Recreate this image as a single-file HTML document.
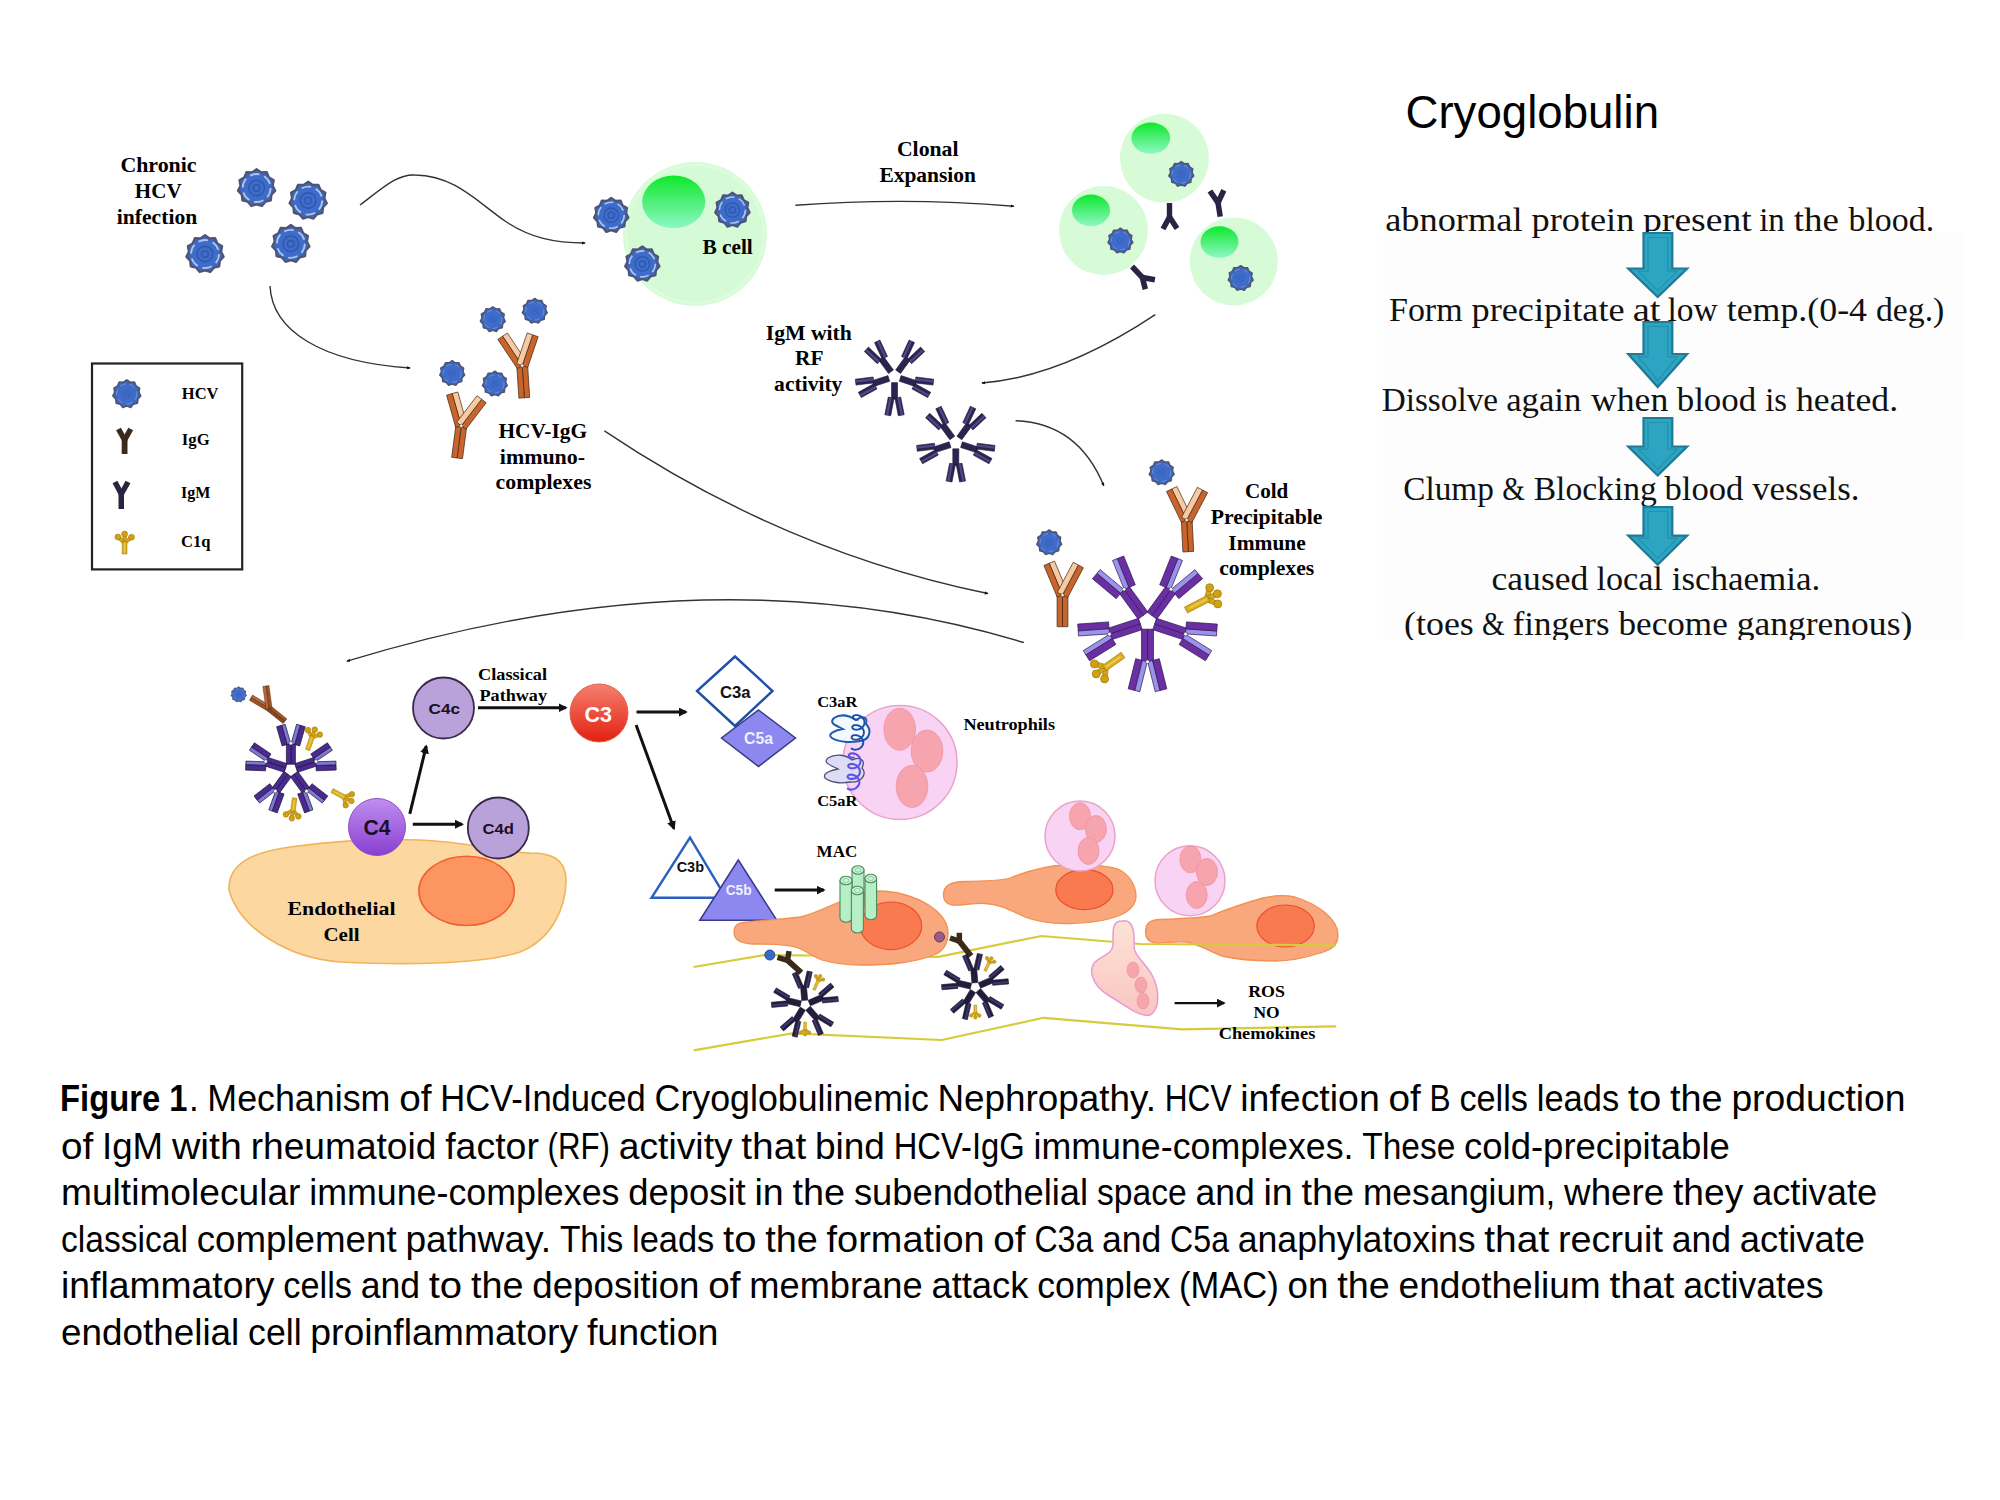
<!DOCTYPE html>
<html><head><meta charset="utf-8"><title>Cryoglobulin</title>
<style>html,body{margin:0;padding:0;background:#fff;}svg{display:block;}</style>
</head><body>
<svg width="2000" height="1500" viewBox="0 0 2000 1500">
<defs>
<marker id="ah" viewBox="0 0 10 10" refX="8" refY="5" markerWidth="4" markerHeight="4" orient="auto-start-reverse" markerUnits="userSpaceOnUse"><path d="M0,1 L10,5 L0,9 z" fill="#111"/></marker>
<marker id="ahb" viewBox="0 0 10 10" refX="8" refY="5" markerWidth="9" markerHeight="9" orient="auto" markerUnits="userSpaceOnUse"><path d="M0,0 L10,5 L0,10 z" fill="#111"/></marker>
<linearGradient id="nuc" x1="0" y1="0" x2="0" y2="1"><stop offset="0" stop-color="#0ee82a"/><stop offset="1" stop-color="#8ef7c6"/></linearGradient>
<linearGradient id="c4g" x1="0" y1="0" x2="0" y2="1"><stop offset="0" stop-color="#c08ef0"/><stop offset="1" stop-color="#8a3fd0"/></linearGradient>
<linearGradient id="c3g" x1="0" y1="0" x2="0" y2="1"><stop offset="0" stop-color="#f58070"/><stop offset="1" stop-color="#e42010"/></linearGradient>
<linearGradient id="nucO" x1="0" y1="0" x2="0" y2="1"><stop offset="0" stop-color="#fd8a5a"/><stop offset="1" stop-color="#fb9868"/></linearGradient>
<linearGradient id="diap" x1="0" y1="0" x2="0" y2="1"><stop offset="0" stop-color="#fde2d6"/><stop offset="1" stop-color="#f9c6c2"/></linearGradient>
</defs>
<rect width="2000" height="1500" fill="#fff"/>

<rect x="1383" y="233" width="579" height="407" fill="#fdfdfe"/>
<text x="1405.5" y="128" font-family='"Liberation Sans", sans-serif' font-size="47" font-weight="normal" fill="#000" textLength="253.5" lengthAdjust="spacingAndGlyphs">Cryoglobulin</text>
<clipPath id="pclip"><rect x="1300" y="150" width="700" height="490"/></clipPath>
<g clip-path="url(#pclip)">
<text x="1385.2" y="231" font-family='"Liberation Serif", serif' font-size="34" font-weight="normal" fill="#111" textLength="137.3" lengthAdjust="spacingAndGlyphs">abnormal</text>
<text x="1531.5" y="231" font-family='"Liberation Serif", serif' font-size="34" font-weight="normal" fill="#111" textLength="102.8" lengthAdjust="spacingAndGlyphs">protein</text>
<text x="1643" y="231" font-family='"Liberation Serif", serif' font-size="34" font-weight="normal" fill="#111" textLength="108.8" lengthAdjust="spacingAndGlyphs">present</text>
<text x="1759.2" y="231" font-family='"Liberation Serif", serif' font-size="34" font-weight="normal" fill="#111" textLength="25.6" lengthAdjust="spacingAndGlyphs">in</text>
<text x="1793.7" y="231" font-family='"Liberation Serif", serif' font-size="34" font-weight="normal" fill="#111" textLength="45.1" lengthAdjust="spacingAndGlyphs">the</text>
<text x="1848.5" y="231" font-family='"Liberation Serif", serif' font-size="34" font-weight="normal" fill="#111" textLength="85.6" lengthAdjust="spacingAndGlyphs">blood.</text>
<text x="1389" y="321" font-family='"Liberation Serif", serif' font-size="34" font-weight="normal" fill="#111" textLength="73.6" lengthAdjust="spacingAndGlyphs">Form</text>
<text x="1471.5" y="321" font-family='"Liberation Serif", serif' font-size="34" font-weight="normal" fill="#111" textLength="153.1" lengthAdjust="spacingAndGlyphs">precipitate</text>
<text x="1632.7" y="321" font-family='"Liberation Serif", serif' font-size="34" font-weight="normal" fill="#111" textLength="27.8" lengthAdjust="spacingAndGlyphs">at</text>
<text x="1667.5" y="321" font-family='"Liberation Serif", serif' font-size="34" font-weight="normal" fill="#111" textLength="50.3" lengthAdjust="spacingAndGlyphs">low</text>
<text x="1726.7" y="321" font-family='"Liberation Serif", serif' font-size="34" font-weight="normal" fill="#111" textLength="140.3" lengthAdjust="spacingAndGlyphs">temp.(0-4</text>
<text x="1876" y="321" font-family='"Liberation Serif", serif' font-size="34" font-weight="normal" fill="#111" textLength="68.3" lengthAdjust="spacingAndGlyphs">deg.)</text>
<text x="1381.7" y="410.5" font-family='"Liberation Serif", serif' font-size="34" font-weight="normal" fill="#111" textLength="116.3" lengthAdjust="spacingAndGlyphs">Dissolve</text>
<text x="1506.2" y="410.5" font-family='"Liberation Serif", serif' font-size="34" font-weight="normal" fill="#111" textLength="75.1" lengthAdjust="spacingAndGlyphs">again</text>
<text x="1591" y="410.5" font-family='"Liberation Serif", serif' font-size="34" font-weight="normal" fill="#111" textLength="77.3" lengthAdjust="spacingAndGlyphs">when</text>
<text x="1676.7" y="410.5" font-family='"Liberation Serif", serif' font-size="34" font-weight="normal" fill="#111" textLength="79.6" lengthAdjust="spacingAndGlyphs">blood</text>
<text x="1765.2" y="410.5" font-family='"Liberation Serif", serif' font-size="34" font-weight="normal" fill="#111" textLength="21.8" lengthAdjust="spacingAndGlyphs">is</text>
<text x="1796" y="410.5" font-family='"Liberation Serif", serif' font-size="34" font-weight="normal" fill="#111" textLength="102.1" lengthAdjust="spacingAndGlyphs">heated.</text>
<text x="1403.2" y="499.8" font-family='"Liberation Serif", serif' font-size="34" font-weight="normal" fill="#111" textLength="90.8" lengthAdjust="spacingAndGlyphs">Clump</text>
<text x="1502.2" y="499.8" font-family='"Liberation Serif", serif' font-size="34" font-weight="normal" fill="#111" textLength="22.6" lengthAdjust="spacingAndGlyphs">&amp;</text>
<text x="1533.7" y="499.8" font-family='"Liberation Serif", serif' font-size="34" font-weight="normal" fill="#111" textLength="123.1" lengthAdjust="spacingAndGlyphs">Blocking</text>
<text x="1664.5" y="499.8" font-family='"Liberation Serif", serif' font-size="34" font-weight="normal" fill="#111" textLength="78.8" lengthAdjust="spacingAndGlyphs">blood</text>
<text x="1752.2" y="499.8" font-family='"Liberation Serif", serif' font-size="34" font-weight="normal" fill="#111" textLength="107.3" lengthAdjust="spacingAndGlyphs">vessels.</text>
<text x="1491.5" y="590.2" font-family='"Liberation Serif", serif' font-size="34" font-weight="normal" fill="#111" textLength="96.9" lengthAdjust="spacingAndGlyphs">caused</text>
<text x="1596.5" y="590.2" font-family='"Liberation Serif", serif' font-size="34" font-weight="normal" fill="#111" textLength="66.3" lengthAdjust="spacingAndGlyphs">local</text>
<text x="1671.7" y="590.2" font-family='"Liberation Serif", serif' font-size="34" font-weight="normal" fill="#111" textLength="148.6" lengthAdjust="spacingAndGlyphs">ischaemia.</text>
<text x="1404" y="634.5" font-family='"Liberation Serif", serif' font-size="34" font-weight="normal" fill="#111" textLength="69.8" lengthAdjust="spacingAndGlyphs">(toes</text>
<text x="1482" y="634.5" font-family='"Liberation Serif", serif' font-size="34" font-weight="normal" fill="#111" textLength="22.6" lengthAdjust="spacingAndGlyphs">&amp;</text>
<text x="1512.7" y="634.5" font-family='"Liberation Serif", serif' font-size="34" font-weight="normal" fill="#111" textLength="96.8" lengthAdjust="spacingAndGlyphs">fingers</text>
<text x="1618.5" y="634.5" font-family='"Liberation Serif", serif' font-size="34" font-weight="normal" fill="#111" textLength="109.3" lengthAdjust="spacingAndGlyphs">become</text>
<text x="1736.7" y="634.5" font-family='"Liberation Serif", serif' font-size="34" font-weight="normal" fill="#111" textLength="175.6" lengthAdjust="spacingAndGlyphs">gangrenous)</text>
</g>
<path d="M1643.5,233 L1672.3,233 L1672.3,268.5 L1687.2,268.5 L1657.7,297 L1628.2,268.5 L1643.5,268.5 Z" fill="#2ca4c2" stroke="#1f7b95" stroke-width="2.2" stroke-linejoin="miter"/>
<path d="M1648,237.5 L1667.8,237.5 L1667.8,271.2 L1677.3,271.2 L1657.7,290.7 L1638.1,271.2 L1648,271.2 Z" fill="none" stroke="#2590ad" stroke-width="1.2"/>
<path d="M1643.5,322 L1672.3,322 L1672.3,354 L1687.2,354 L1657.7,387 L1628.2,354 L1643.5,354 Z" fill="#2ca4c2" stroke="#1f7b95" stroke-width="2.2" stroke-linejoin="miter"/>
<path d="M1648,326.5 L1667.8,326.5 L1667.8,356.7 L1677.3,356.7 L1657.7,380.7 L1638.1,356.7 L1648,356.7 Z" fill="none" stroke="#2590ad" stroke-width="1.2"/>
<path d="M1643.5,418 L1672.3,418 L1672.3,446.5 L1687.2,446.5 L1657.7,475.5 L1628.2,446.5 L1643.5,446.5 Z" fill="#2ca4c2" stroke="#1f7b95" stroke-width="2.2" stroke-linejoin="miter"/>
<path d="M1648,422.5 L1667.8,422.5 L1667.8,449.2 L1677.3,449.2 L1657.7,469.2 L1638.1,449.2 L1648,449.2 Z" fill="none" stroke="#2590ad" stroke-width="1.2"/>
<path d="M1643.5,507 L1672.3,507 L1672.3,535.6 L1687.2,535.6 L1657.7,564.7 L1628.2,535.6 L1643.5,535.6 Z" fill="#2ca4c2" stroke="#1f7b95" stroke-width="2.2" stroke-linejoin="miter"/>
<path d="M1648,511.5 L1667.8,511.5 L1667.8,538.3 L1677.3,538.3 L1657.7,558.4 L1638.1,538.3 L1648,538.3 Z" fill="none" stroke="#2590ad" stroke-width="1.2"/>
<text x="60" y="1111" font-family='"Liberation Sans", sans-serif' font-size="37" font-weight="bold" fill="#000" textLength="127.5" lengthAdjust="spacingAndGlyphs">Figure 1</text>
<text x="188.9" y="1111" font-family='"Liberation Sans", sans-serif' font-size="37" font-weight="normal" fill="#000" textLength="9.7" lengthAdjust="spacingAndGlyphs">.</text>
<text x="207.3" y="1111" font-family='"Liberation Sans", sans-serif' font-size="37" font-weight="normal" fill="#000" textLength="183.1" lengthAdjust="spacingAndGlyphs">Mechanism</text>
<text x="399.2" y="1111" font-family='"Liberation Sans", sans-serif' font-size="37" font-weight="normal" fill="#000" textLength="32.3" lengthAdjust="spacingAndGlyphs">of</text>
<text x="440.2" y="1111" font-family='"Liberation Sans", sans-serif' font-size="37" font-weight="normal" fill="#000" textLength="205.6" lengthAdjust="spacingAndGlyphs">HCV-Induced</text>
<text x="654.6" y="1111" font-family='"Liberation Sans", sans-serif' font-size="37" font-weight="normal" fill="#000" textLength="274.2" lengthAdjust="spacingAndGlyphs">Cryoglobulinemic</text>
<text x="937.5" y="1111" font-family='"Liberation Sans", sans-serif' font-size="37" font-weight="normal" fill="#000" textLength="218.5" lengthAdjust="spacingAndGlyphs">Nephropathy.</text>
<text x="1164.7" y="1111" font-family='"Liberation Sans", sans-serif' font-size="37" font-weight="normal" fill="#000" textLength="66.8" lengthAdjust="spacingAndGlyphs">HCV</text>
<text x="1240.3" y="1111" font-family='"Liberation Sans", sans-serif' font-size="37" font-weight="normal" fill="#000" textLength="139.4" lengthAdjust="spacingAndGlyphs">infection</text>
<text x="1388.5" y="1111" font-family='"Liberation Sans", sans-serif' font-size="37" font-weight="normal" fill="#000" textLength="32.3" lengthAdjust="spacingAndGlyphs">of</text>
<text x="1429.5" y="1111" font-family='"Liberation Sans", sans-serif' font-size="37" font-weight="normal" fill="#000" textLength="21.1" lengthAdjust="spacingAndGlyphs">B</text>
<text x="1459.4" y="1111" font-family='"Liberation Sans", sans-serif' font-size="37" font-weight="normal" fill="#000" textLength="68.6" lengthAdjust="spacingAndGlyphs">cells</text>
<text x="1536.8" y="1111" font-family='"Liberation Sans", sans-serif' font-size="37" font-weight="normal" fill="#000" textLength="82.3" lengthAdjust="spacingAndGlyphs">leads</text>
<text x="1627.8" y="1111" font-family='"Liberation Sans", sans-serif' font-size="37" font-weight="normal" fill="#000" textLength="33.4" lengthAdjust="spacingAndGlyphs">to</text>
<text x="1670" y="1111" font-family='"Liberation Sans", sans-serif' font-size="37" font-weight="normal" fill="#000" textLength="52.6" lengthAdjust="spacingAndGlyphs">the</text>
<text x="1731.4" y="1111" font-family='"Liberation Sans", sans-serif' font-size="37" font-weight="normal" fill="#000" textLength="174.1" lengthAdjust="spacingAndGlyphs">production</text>
<text x="61" y="1158.5" font-family='"Liberation Sans", sans-serif' font-size="37" font-weight="normal" fill="#000" textLength="32.3" lengthAdjust="spacingAndGlyphs">of</text>
<text x="102" y="1158.5" font-family='"Liberation Sans", sans-serif' font-size="37" font-weight="normal" fill="#000" textLength="61.1" lengthAdjust="spacingAndGlyphs">IgM</text>
<text x="171.9" y="1158.5" font-family='"Liberation Sans", sans-serif' font-size="37" font-weight="normal" fill="#000" textLength="69.9" lengthAdjust="spacingAndGlyphs">with</text>
<text x="250.7" y="1158.5" font-family='"Liberation Sans", sans-serif' font-size="37" font-weight="normal" fill="#000" textLength="185.7" lengthAdjust="spacingAndGlyphs">rheumatoid</text>
<text x="445.2" y="1158.5" font-family='"Liberation Sans", sans-serif' font-size="37" font-weight="normal" fill="#000" textLength="93.7" lengthAdjust="spacingAndGlyphs">factor</text>
<text x="547.6" y="1158.5" font-family='"Liberation Sans", sans-serif' font-size="37" font-weight="normal" fill="#000" textLength="62.4" lengthAdjust="spacingAndGlyphs">(RF)</text>
<text x="618.8" y="1158.5" font-family='"Liberation Sans", sans-serif' font-size="37" font-weight="normal" fill="#000" textLength="113.8" lengthAdjust="spacingAndGlyphs">activity</text>
<text x="741.3" y="1158.5" font-family='"Liberation Sans", sans-serif' font-size="37" font-weight="normal" fill="#000" textLength="64.9" lengthAdjust="spacingAndGlyphs">that</text>
<text x="814.9" y="1158.5" font-family='"Liberation Sans", sans-serif' font-size="37" font-weight="normal" fill="#000" textLength="70" lengthAdjust="spacingAndGlyphs">bind</text>
<text x="893.7" y="1158.5" font-family='"Liberation Sans", sans-serif' font-size="37" font-weight="normal" fill="#000" textLength="131.1" lengthAdjust="spacingAndGlyphs">HCV-IgG</text>
<text x="1033.6" y="1158.5" font-family='"Liberation Sans", sans-serif' font-size="37" font-weight="normal" fill="#000" textLength="319.9" lengthAdjust="spacingAndGlyphs">immune-complexes.</text>
<text x="1362.3" y="1158.5" font-family='"Liberation Sans", sans-serif' font-size="37" font-weight="normal" fill="#000" textLength="93" lengthAdjust="spacingAndGlyphs">These</text>
<text x="1464" y="1158.5" font-family='"Liberation Sans", sans-serif' font-size="37" font-weight="normal" fill="#000" textLength="265.8" lengthAdjust="spacingAndGlyphs">cold-precipitable</text>
<text x="61" y="1204.5" font-family='"Liberation Sans", sans-serif' font-size="37" font-weight="normal" fill="#000" textLength="239.4" lengthAdjust="spacingAndGlyphs">multimolecular</text>
<text x="309.2" y="1204.5" font-family='"Liberation Sans", sans-serif' font-size="37" font-weight="normal" fill="#000" textLength="310.3" lengthAdjust="spacingAndGlyphs">immune-complexes</text>
<text x="628.2" y="1204.5" font-family='"Liberation Sans", sans-serif' font-size="37" font-weight="normal" fill="#000" textLength="117.5" lengthAdjust="spacingAndGlyphs">deposit</text>
<text x="754.5" y="1204.5" font-family='"Liberation Sans", sans-serif' font-size="37" font-weight="normal" fill="#000" textLength="29.3" lengthAdjust="spacingAndGlyphs">in</text>
<text x="792.5" y="1204.5" font-family='"Liberation Sans", sans-serif' font-size="37" font-weight="normal" fill="#000" textLength="52.6" lengthAdjust="spacingAndGlyphs">the</text>
<text x="853.9" y="1204.5" font-family='"Liberation Sans", sans-serif' font-size="37" font-weight="normal" fill="#000" textLength="234.2" lengthAdjust="spacingAndGlyphs">subendothelial</text>
<text x="1096.9" y="1204.5" font-family='"Liberation Sans", sans-serif' font-size="37" font-weight="normal" fill="#000" textLength="89.8" lengthAdjust="spacingAndGlyphs">space</text>
<text x="1195.4" y="1204.5" font-family='"Liberation Sans", sans-serif' font-size="37" font-weight="normal" fill="#000" textLength="59.3" lengthAdjust="spacingAndGlyphs">and</text>
<text x="1263.4" y="1204.5" font-family='"Liberation Sans", sans-serif' font-size="37" font-weight="normal" fill="#000" textLength="29.3" lengthAdjust="spacingAndGlyphs">in</text>
<text x="1301.5" y="1204.5" font-family='"Liberation Sans", sans-serif' font-size="37" font-weight="normal" fill="#000" textLength="52.6" lengthAdjust="spacingAndGlyphs">the</text>
<text x="1362.9" y="1204.5" font-family='"Liberation Sans", sans-serif' font-size="37" font-weight="normal" fill="#000" textLength="192.5" lengthAdjust="spacingAndGlyphs">mesangium,</text>
<text x="1564.1" y="1204.5" font-family='"Liberation Sans", sans-serif' font-size="37" font-weight="normal" fill="#000" textLength="100.2" lengthAdjust="spacingAndGlyphs">where</text>
<text x="1673" y="1204.5" font-family='"Liberation Sans", sans-serif' font-size="37" font-weight="normal" fill="#000" textLength="70.2" lengthAdjust="spacingAndGlyphs">they</text>
<text x="1752" y="1204.5" font-family='"Liberation Sans", sans-serif' font-size="37" font-weight="normal" fill="#000" textLength="125.2" lengthAdjust="spacingAndGlyphs">activate</text>
<text x="61" y="1252" font-family='"Liberation Sans", sans-serif' font-size="37" font-weight="normal" fill="#000" textLength="126.9" lengthAdjust="spacingAndGlyphs">classical</text>
<text x="196.7" y="1252" font-family='"Liberation Sans", sans-serif' font-size="37" font-weight="normal" fill="#000" textLength="199.9" lengthAdjust="spacingAndGlyphs">complement</text>
<text x="405.4" y="1252" font-family='"Liberation Sans", sans-serif' font-size="37" font-weight="normal" fill="#000" textLength="145.8" lengthAdjust="spacingAndGlyphs">pathway.</text>
<text x="559.9" y="1252" font-family='"Liberation Sans", sans-serif' font-size="37" font-weight="normal" fill="#000" textLength="63.3" lengthAdjust="spacingAndGlyphs">This</text>
<text x="632" y="1252" font-family='"Liberation Sans", sans-serif' font-size="37" font-weight="normal" fill="#000" textLength="82.3" lengthAdjust="spacingAndGlyphs">leads</text>
<text x="723" y="1252" font-family='"Liberation Sans", sans-serif' font-size="37" font-weight="normal" fill="#000" textLength="33.4" lengthAdjust="spacingAndGlyphs">to</text>
<text x="765.2" y="1252" font-family='"Liberation Sans", sans-serif' font-size="37" font-weight="normal" fill="#000" textLength="52.6" lengthAdjust="spacingAndGlyphs">the</text>
<text x="826.6" y="1252" font-family='"Liberation Sans", sans-serif' font-size="37" font-weight="normal" fill="#000" textLength="158" lengthAdjust="spacingAndGlyphs">formation</text>
<text x="993.3" y="1252" font-family='"Liberation Sans", sans-serif' font-size="37" font-weight="normal" fill="#000" textLength="32.3" lengthAdjust="spacingAndGlyphs">of</text>
<text x="1034.4" y="1252" font-family='"Liberation Sans", sans-serif' font-size="37" font-weight="normal" fill="#000" textLength="58.9" lengthAdjust="spacingAndGlyphs">C3a</text>
<text x="1102" y="1252" font-family='"Liberation Sans", sans-serif' font-size="37" font-weight="normal" fill="#000" textLength="59.3" lengthAdjust="spacingAndGlyphs">and</text>
<text x="1170.1" y="1252" font-family='"Liberation Sans", sans-serif' font-size="37" font-weight="normal" fill="#000" textLength="58.9" lengthAdjust="spacingAndGlyphs">C5a</text>
<text x="1237.7" y="1252" font-family='"Liberation Sans", sans-serif' font-size="37" font-weight="normal" fill="#000" textLength="237.9" lengthAdjust="spacingAndGlyphs">anaphylatoxins</text>
<text x="1484.3" y="1252" font-family='"Liberation Sans", sans-serif' font-size="37" font-weight="normal" fill="#000" textLength="64.9" lengthAdjust="spacingAndGlyphs">that</text>
<text x="1558" y="1252" font-family='"Liberation Sans", sans-serif' font-size="37" font-weight="normal" fill="#000" textLength="104.9" lengthAdjust="spacingAndGlyphs">recruit</text>
<text x="1671.7" y="1252" font-family='"Liberation Sans", sans-serif' font-size="37" font-weight="normal" fill="#000" textLength="59.3" lengthAdjust="spacingAndGlyphs">and</text>
<text x="1739.8" y="1252" font-family='"Liberation Sans", sans-serif' font-size="37" font-weight="normal" fill="#000" textLength="125.2" lengthAdjust="spacingAndGlyphs">activate</text>
<text x="61" y="1298" font-family='"Liberation Sans", sans-serif' font-size="37" font-weight="normal" fill="#000" textLength="213.5" lengthAdjust="spacingAndGlyphs">inflammatory</text>
<text x="283.3" y="1298" font-family='"Liberation Sans", sans-serif' font-size="37" font-weight="normal" fill="#000" textLength="68.6" lengthAdjust="spacingAndGlyphs">cells</text>
<text x="360.7" y="1298" font-family='"Liberation Sans", sans-serif' font-size="37" font-weight="normal" fill="#000" textLength="59.3" lengthAdjust="spacingAndGlyphs">and</text>
<text x="428.7" y="1298" font-family='"Liberation Sans", sans-serif' font-size="37" font-weight="normal" fill="#000" textLength="33.4" lengthAdjust="spacingAndGlyphs">to</text>
<text x="470.9" y="1298" font-family='"Liberation Sans", sans-serif' font-size="37" font-weight="normal" fill="#000" textLength="52.6" lengthAdjust="spacingAndGlyphs">the</text>
<text x="532.3" y="1298" font-family='"Liberation Sans", sans-serif' font-size="37" font-weight="normal" fill="#000" textLength="167.2" lengthAdjust="spacingAndGlyphs">deposition</text>
<text x="708.3" y="1298" font-family='"Liberation Sans", sans-serif' font-size="37" font-weight="normal" fill="#000" textLength="32.3" lengthAdjust="spacingAndGlyphs">of</text>
<text x="749.3" y="1298" font-family='"Liberation Sans", sans-serif' font-size="37" font-weight="normal" fill="#000" textLength="173.3" lengthAdjust="spacingAndGlyphs">membrane</text>
<text x="931.4" y="1298" font-family='"Liberation Sans", sans-serif' font-size="37" font-weight="normal" fill="#000" textLength="97.1" lengthAdjust="spacingAndGlyphs">attack</text>
<text x="1037.2" y="1298" font-family='"Liberation Sans", sans-serif' font-size="37" font-weight="normal" fill="#000" textLength="133.1" lengthAdjust="spacingAndGlyphs">complex</text>
<text x="1179.1" y="1298" font-family='"Liberation Sans", sans-serif' font-size="37" font-weight="normal" fill="#000" textLength="99.7" lengthAdjust="spacingAndGlyphs">(MAC)</text>
<text x="1287.6" y="1298" font-family='"Liberation Sans", sans-serif' font-size="37" font-weight="normal" fill="#000" textLength="40.8" lengthAdjust="spacingAndGlyphs">on</text>
<text x="1337.2" y="1298" font-family='"Liberation Sans", sans-serif' font-size="37" font-weight="normal" fill="#000" textLength="52.6" lengthAdjust="spacingAndGlyphs">the</text>
<text x="1398.6" y="1298" font-family='"Liberation Sans", sans-serif' font-size="37" font-weight="normal" fill="#000" textLength="202.2" lengthAdjust="spacingAndGlyphs">endothelium</text>
<text x="1609.5" y="1298" font-family='"Liberation Sans", sans-serif' font-size="37" font-weight="normal" fill="#000" textLength="64.9" lengthAdjust="spacingAndGlyphs">that</text>
<text x="1683.2" y="1298" font-family='"Liberation Sans", sans-serif' font-size="37" font-weight="normal" fill="#000" textLength="140.3" lengthAdjust="spacingAndGlyphs">activates</text>
<text x="61" y="1345" font-family='"Liberation Sans", sans-serif' font-size="37" font-weight="normal" fill="#000" textLength="178.3" lengthAdjust="spacingAndGlyphs">endothelial</text>
<text x="248.1" y="1345" font-family='"Liberation Sans", sans-serif' font-size="37" font-weight="normal" fill="#000" textLength="53.5" lengthAdjust="spacingAndGlyphs">cell</text>
<text x="310.3" y="1345" font-family='"Liberation Sans", sans-serif' font-size="37" font-weight="normal" fill="#000" textLength="267.8" lengthAdjust="spacingAndGlyphs">proinflammatory</text>
<text x="586.9" y="1345" font-family='"Liberation Sans", sans-serif' font-size="37" font-weight="normal" fill="#000" textLength="131.6" lengthAdjust="spacingAndGlyphs">function</text>
<text x="120.4" y="171.8" font-family='"Liberation Serif", serif' font-size="21" font-weight="bold" fill="#000" textLength="76.2" lengthAdjust="spacingAndGlyphs">Chronic</text>
<text x="134.8" y="197.6" font-family='"Liberation Serif", serif' font-size="21" font-weight="bold" fill="#000" textLength="46.8" lengthAdjust="spacingAndGlyphs">HCV</text>
<text x="116.8" y="224" font-family='"Liberation Serif", serif' font-size="21" font-weight="bold" fill="#000" textLength="80.4" lengthAdjust="spacingAndGlyphs">infection</text>
<g>
<polygon points="256.6,169.1 261.2,172.3 266.8,172.1 269,177.3 273.8,180.1 272.8,185.7 275.3,190.7 271.5,194.8 270.9,200.4 265.5,201.8 261.9,206.1 256.6,204.4 251.3,206.1 247.7,201.8 242.3,200.4 241.7,194.8 237.9,190.7 240.4,185.7 239.4,180.1 244.2,177.3 246.4,172.1 252,172.3" fill="#3f66b8" stroke="#4f5472" stroke-width="2.1" stroke-linejoin="round"/>
<circle cx="256.6" cy="188" r="14.4" fill="#3e6cc8"/>
<circle cx="256.6" cy="188" r="14" fill="none" stroke="#a9c6f0" stroke-width="1.8" stroke-dasharray="9.8 4.9"/>
<circle cx="256.6" cy="188" r="7.8" fill="none" stroke="#2d58ae" stroke-width="1.4"/>
<circle cx="256.6" cy="188" r="3.3" fill="none" stroke="#2d58ae" stroke-width="1.4"/>
</g>
<g>
<polygon points="308.2,181.7 312.8,184.9 318.4,184.7 320.6,189.9 325.4,192.7 324.4,198.3 326.9,203.3 323.1,207.4 322.5,213 317.1,214.4 313.5,218.7 308.2,217 302.9,218.7 299.3,214.4 293.9,213 293.3,207.4 289.5,203.3 292,198.3 291,192.7 295.8,189.9 298,184.7 303.6,184.9" fill="#3f66b8" stroke="#4f5472" stroke-width="2.1" stroke-linejoin="round"/>
<circle cx="308.2" cy="200.6" r="14.4" fill="#3e6cc8"/>
<circle cx="308.2" cy="200.6" r="14" fill="none" stroke="#a9c6f0" stroke-width="1.8" stroke-dasharray="9.8 4.9"/>
<circle cx="308.2" cy="200.6" r="7.8" fill="none" stroke="#2d58ae" stroke-width="1.4"/>
<circle cx="308.2" cy="200.6" r="3.3" fill="none" stroke="#2d58ae" stroke-width="1.4"/>
</g>
<g>
<polygon points="205,235.1 209.6,238.3 215.2,238.1 217.4,243.3 222.2,246.1 221.2,251.7 223.7,256.7 219.9,260.8 219.3,266.4 213.9,267.8 210.3,272.1 205,270.4 199.7,272.1 196.1,267.8 190.7,266.4 190.1,260.8 186.3,256.7 188.8,251.7 187.8,246.1 192.6,243.3 194.8,238.1 200.4,238.3" fill="#3f66b8" stroke="#4f5472" stroke-width="2.1" stroke-linejoin="round"/>
<circle cx="205" cy="254" r="14.4" fill="#3e6cc8"/>
<circle cx="205" cy="254" r="14" fill="none" stroke="#a9c6f0" stroke-width="1.8" stroke-dasharray="9.8 4.9"/>
<circle cx="205" cy="254" r="7.8" fill="none" stroke="#2d58ae" stroke-width="1.4"/>
<circle cx="205" cy="254" r="3.3" fill="none" stroke="#2d58ae" stroke-width="1.4"/>
</g>
<g>
<polygon points="290.8,224.9 295.4,228.1 301,227.9 303.2,233.1 308,235.9 307,241.5 309.5,246.5 305.7,250.6 305.1,256.2 299.7,257.6 296.1,261.9 290.8,260.2 285.5,261.9 281.9,257.6 276.5,256.2 275.9,250.6 272.1,246.5 274.6,241.5 273.6,235.9 278.4,233.1 280.6,227.9 286.2,228.1" fill="#3f66b8" stroke="#4f5472" stroke-width="2.1" stroke-linejoin="round"/>
<circle cx="290.8" cy="243.8" r="14.4" fill="#3e6cc8"/>
<circle cx="290.8" cy="243.8" r="14" fill="none" stroke="#a9c6f0" stroke-width="1.8" stroke-dasharray="9.8 4.9"/>
<circle cx="290.8" cy="243.8" r="7.8" fill="none" stroke="#2d58ae" stroke-width="1.4"/>
<circle cx="290.8" cy="243.8" r="3.3" fill="none" stroke="#2d58ae" stroke-width="1.4"/>
</g>
<path d="M360,205 C385,186 398,174 415,175 C455,176 475,200 505,221 C530,238 555,243 585,243" fill="none" stroke="#333" stroke-width="1.4" marker-end="url(#ah)"/>
<path d="M270,286 C272,330 320,362 410,368" fill="none" stroke="#333" stroke-width="1.4" marker-end="url(#ah)"/>
<circle cx="695" cy="234" r="72" fill="#d5fbd6"/>
<circle cx="695" cy="234" r="69" fill="none" stroke="#dcfddc" stroke-width="3"/>
<ellipse cx="673.7" cy="201.9" rx="31.5" ry="26.4" fill="url(#nuc)"/>
<g>
<polygon points="611.2,197.7 615.5,200.7 620.6,200.5 622.6,205.3 627.1,207.9 626.2,213 628.5,217.7 625,221.5 624.4,226.6 619.4,227.9 616.1,232 611.2,230.3 606.3,232 603,227.9 598,226.6 597.4,221.5 593.9,217.7 596.2,213 595.3,207.9 599.8,205.3 601.8,200.5 606.9,200.7" fill="#3f66b8" stroke="#4f5472" stroke-width="2" stroke-linejoin="round"/>
<circle cx="611.2" cy="215.2" r="13.3" fill="#3e6cc8"/>
<circle cx="611.2" cy="215.2" r="13" fill="none" stroke="#a9c6f0" stroke-width="1.6" stroke-dasharray="9 4.5"/>
<circle cx="611.2" cy="215.2" r="7.2" fill="none" stroke="#2d58ae" stroke-width="1.3"/>
<circle cx="611.2" cy="215.2" r="3.1" fill="none" stroke="#2d58ae" stroke-width="1.3"/>
</g>
<g>
<polygon points="732.4,192.5 736.7,195.5 741.8,195.3 743.8,200.1 748.3,202.7 747.4,207.8 749.7,212.5 746.2,216.3 745.6,221.4 740.6,222.7 737.3,226.8 732.4,225.1 727.5,226.8 724.2,222.7 719.2,221.4 718.6,216.3 715.1,212.5 717.4,207.8 716.5,202.7 721,200.1 723,195.3 728.1,195.5" fill="#3f66b8" stroke="#4f5472" stroke-width="2" stroke-linejoin="round"/>
<circle cx="732.4" cy="210" r="13.3" fill="#3e6cc8"/>
<circle cx="732.4" cy="210" r="13" fill="none" stroke="#a9c6f0" stroke-width="1.6" stroke-dasharray="9 4.5"/>
<circle cx="732.4" cy="210" r="7.2" fill="none" stroke="#2d58ae" stroke-width="1.3"/>
<circle cx="732.4" cy="210" r="3.1" fill="none" stroke="#2d58ae" stroke-width="1.3"/>
</g>
<g>
<polygon points="642.3,246.4 646.6,249.4 651.7,249.2 653.7,254 658.2,256.6 657.3,261.7 659.6,266.4 656.1,270.2 655.5,275.3 650.5,276.6 647.2,280.7 642.3,279 637.4,280.7 634.1,276.6 629.1,275.3 628.5,270.2 625,266.4 627.3,261.7 626.4,256.6 630.9,254 632.9,249.2 638,249.4" fill="#3f66b8" stroke="#4f5472" stroke-width="2" stroke-linejoin="round"/>
<circle cx="642.3" cy="263.9" r="13.3" fill="#3e6cc8"/>
<circle cx="642.3" cy="263.9" r="13" fill="none" stroke="#a9c6f0" stroke-width="1.6" stroke-dasharray="9 4.5"/>
<circle cx="642.3" cy="263.9" r="7.2" fill="none" stroke="#2d58ae" stroke-width="1.3"/>
<circle cx="642.3" cy="263.9" r="3.1" fill="none" stroke="#2d58ae" stroke-width="1.3"/>
</g>
<text x="702.4" y="254.2" font-family='"Liberation Serif", serif' font-size="21" font-weight="bold" fill="#000" textLength="50.4" lengthAdjust="spacingAndGlyphs">B cell</text>
<text x="896.9" y="156.3" font-family='"Liberation Serif", serif' font-size="21" font-weight="bold" fill="#000" textLength="61.6" lengthAdjust="spacingAndGlyphs">Clonal</text>
<text x="879.4" y="181.8" font-family='"Liberation Serif", serif' font-size="21" font-weight="bold" fill="#000" textLength="96.6" lengthAdjust="spacingAndGlyphs">Expansion</text>
<path d="M795.4,205.3 Q906,197 1013.8,206.3" fill="none" stroke="#333" stroke-width="1.4" marker-end="url(#ah)"/>
<circle cx="1164.5" cy="158.3" r="44.5" fill="#d6fbd6"/>
<circle cx="1103.5" cy="230.5" r="44.5" fill="#d6fbd6"/>
<circle cx="1233.8" cy="261.4" r="44" fill="#d6fbd6"/>
<ellipse cx="1150.8" cy="138.1" rx="19.4" ry="15.6" fill="url(#nuc)"/>
<ellipse cx="1091" cy="210.4" rx="19" ry="15.8" fill="url(#nuc)"/>
<ellipse cx="1219.5" cy="242" rx="19" ry="15.8" fill="url(#nuc)"/>
<g>
<polygon points="1181.3,161.5 1184.4,163.6 1188.1,163.5 1189.6,166.9 1192.8,168.9 1192.1,172.5 1193.8,175.9 1191.2,178.6 1190.8,182.4 1187.2,183.3 1184.9,186.2 1181.3,185 1177.7,186.2 1175.4,183.3 1171.8,182.4 1171.4,178.6 1168.8,175.9 1170.5,172.5 1169.8,168.9 1173,166.9 1174.5,163.5 1178.2,163.6" fill="#3f66b8" stroke="#4f5472" stroke-width="1.4" stroke-linejoin="round"/>
<circle cx="1181.3" cy="174.1" r="9.6" fill="#3e6cc8"/>
<circle cx="1181.3" cy="174.1" r="9.1" fill="none" stroke="#6f96dc" stroke-width="0.9" stroke-dasharray="5.2 3.9"/>
<circle cx="1181.3" cy="174.1" r="3.9" fill="#3a66c4"/>
</g>
<g>
<polygon points="1120.4,228.2 1123.5,230.3 1127.2,230.2 1128.7,233.6 1131.9,235.6 1131.2,239.2 1132.9,242.6 1130.3,245.3 1129.9,249.1 1126.3,250 1124,252.9 1120.4,251.7 1116.8,252.9 1114.5,250 1110.9,249.1 1110.5,245.3 1107.9,242.6 1109.6,239.2 1108.9,235.6 1112.1,233.6 1113.6,230.2 1117.3,230.3" fill="#3f66b8" stroke="#4f5472" stroke-width="1.4" stroke-linejoin="round"/>
<circle cx="1120.4" cy="240.8" r="9.6" fill="#3e6cc8"/>
<circle cx="1120.4" cy="240.8" r="9.1" fill="none" stroke="#6f96dc" stroke-width="0.9" stroke-dasharray="5.2 3.9"/>
<circle cx="1120.4" cy="240.8" r="3.9" fill="#3a66c4"/>
</g>
<g>
<polygon points="1240.7,265.6 1243.8,267.7 1247.5,267.6 1249,271 1252.2,273 1251.5,276.6 1253.2,280 1250.6,282.7 1250.2,286.5 1246.6,287.4 1244.3,290.3 1240.7,289.1 1237.1,290.3 1234.8,287.4 1231.2,286.5 1230.8,282.7 1228.2,280 1229.9,276.6 1229.2,273 1232.4,271 1233.9,267.6 1237.6,267.7" fill="#3f66b8" stroke="#4f5472" stroke-width="1.4" stroke-linejoin="round"/>
<circle cx="1240.7" cy="278.2" r="9.6" fill="#3e6cc8"/>
<circle cx="1240.7" cy="278.2" r="9.1" fill="none" stroke="#6f96dc" stroke-width="0.9" stroke-dasharray="5.2 3.9"/>
<circle cx="1240.7" cy="278.2" r="3.9" fill="#3a66c4"/>
</g>
<polygon points="1166.8,203 1166.8,217 1172.2,217 1172.2,203" fill="#2a2342"/>
<polygon points="1167.1,215.7 1160.6,227.7 1165.4,230.3 1171.9,218.3" fill="#2a2342"/>
<polygon points="1167.2,218.5 1174.7,229.9 1179.3,226.9 1171.8,215.5" fill="#2a2342"/>

<polygon points="1222.9,216.2 1220.7,202.3 1215.3,203.1 1217.5,217" fill="#2a2342"/>
<polygon points="1220.3,201.1 1212.2,189.4 1207.6,192.6 1215.7,204.3" fill="#2a2342"/>
<polygon points="1220.5,203.9 1226.3,191.4 1221.3,189 1215.5,201.5" fill="#2a2342"/>

<polygon points="1130,268.4 1140.4,279.4 1144.4,275.6 1134,264.6" fill="#2a2342"/>
<polygon points="1141.9,280.2 1154.4,282.4 1155.4,277 1142.9,274.8" fill="#2a2342"/>
<polygon points="1139.7,278.2 1142.6,289.9 1148,288.5 1145.1,276.8" fill="#2a2342"/>

<path d="M1155.3,314.7 Q1061.5,377 982,383" fill="none" stroke="#333" stroke-width="1.4" marker-end="url(#ah)"/>
<text x="765.8" y="339.9" font-family='"Liberation Serif", serif' font-size="21" font-weight="bold" fill="#000" textLength="86.1" lengthAdjust="spacingAndGlyphs">IgM with</text>
<text x="795" y="365.1" font-family='"Liberation Serif", serif' font-size="21" font-weight="bold" fill="#000" textLength="28.5" lengthAdjust="spacingAndGlyphs">RF</text>
<text x="774.1" y="391.3" font-family='"Liberation Serif", serif' font-size="21" font-weight="bold" fill="#000" textLength="68.3" lengthAdjust="spacingAndGlyphs">activity</text>
<polygon points="891.5,382.6 891.5,399.1 897.5,399.1 897.5,382.6" fill="#2c2450" stroke="#1c1830" stroke-width="0.6"/>
<polygon points="894.9,398.2 898.3,415.8 904.2,414.7 900.7,397" fill="#2c2450" stroke="#1c1830" stroke-width="0.6"/>
<polygon points="897.4,397.7 900.8,415.3 903.1,414.9 899.6,397.2" fill="#4e4888"/>
<polygon points="888.3,397 884.8,414.7 890.7,415.8 894.1,398.2" fill="#2c2450" stroke="#1c1830" stroke-width="0.6"/>
<polygon points="889.4,397.2 885.9,414.9 888.2,415.3 891.6,397.7" fill="#4e4888"/>
<polygon points="887.9,375.6 872.2,380.7 874,386.4 889.7,381.3" fill="#2c2450" stroke="#1c1830" stroke-width="0.6"/>
<polygon points="874.1,383.6 858.3,392.3 861.3,397.6 877,388.9" fill="#2c2450" stroke="#1c1830" stroke-width="0.6"/>
<polygon points="875.3,385.9 859.6,394.6 860.7,396.6 876.4,387.9" fill="#4e4888"/>
<polygon points="873.1,377 855.3,379.2 856,385.1 873.9,382.9" fill="#2c2450" stroke="#1c1830" stroke-width="0.6"/>
<polygon points="873.3,378.1 855.4,380.3 855.7,382.6 873.6,380.4" fill="#4e4888"/>
<polygon points="893.4,370 883.7,356.6 878.8,360.2 888.5,373.5" fill="#2c2450" stroke="#1c1830" stroke-width="0.6"/>
<polygon points="881.5,359.4 868.4,347.1 864.3,351.5 877.4,363.7" fill="#2c2450" stroke="#1c1830" stroke-width="0.6"/>
<polygon points="879.8,361.2 866.6,349 865.1,350.6 878.2,362.9" fill="#4e4888"/>
<polygon points="887.5,356.4 879.9,340.1 874.5,342.6 882.1,358.9" fill="#2c2450" stroke="#1c1830" stroke-width="0.6"/>
<polygon points="886.5,356.9 878.9,340.6 876.8,341.5 884.4,357.8" fill="#4e4888"/>
<polygon points="900.5,373.5 910.2,360.2 905.3,356.6 895.6,370" fill="#2c2450" stroke="#1c1830" stroke-width="0.6"/>
<polygon points="906.9,358.9 914.5,342.6 909.1,340.1 901.5,356.4" fill="#2c2450" stroke="#1c1830" stroke-width="0.6"/>
<polygon points="904.6,357.8 912.2,341.5 910.1,340.6 902.5,356.9" fill="#4e4888"/>
<polygon points="911.6,363.7 924.7,351.5 920.6,347.1 907.5,359.4" fill="#2c2450" stroke="#1c1830" stroke-width="0.6"/>
<polygon points="910.8,362.9 923.9,350.6 922.4,349 909.2,361.2" fill="#4e4888"/>
<polygon points="899.3,381.3 915,386.4 916.8,380.7 901.1,375.6" fill="#2c2450" stroke="#1c1830" stroke-width="0.6"/>
<polygon points="915.1,382.9 933,385.1 933.7,379.2 915.9,377" fill="#2c2450" stroke="#1c1830" stroke-width="0.6"/>
<polygon points="915.4,380.4 933.3,382.6 933.6,380.3 915.7,378.1" fill="#4e4888"/>
<polygon points="912,388.9 927.7,397.6 930.7,392.3 914.9,383.6" fill="#2c2450" stroke="#1c1830" stroke-width="0.6"/>
<polygon points="912.6,387.9 928.3,396.6 929.4,394.6 913.7,385.9" fill="#4e4888"/>
<polygon points="952.8,448.8 952.8,465.3 958.8,465.3 958.8,448.8" fill="#2c2450" stroke="#1c1830" stroke-width="0.6"/>
<polygon points="956.2,464.4 959.6,482 965.5,480.9 962,463.2" fill="#2c2450" stroke="#1c1830" stroke-width="0.6"/>
<polygon points="958.7,463.9 962.1,481.5 964.4,481.1 960.9,463.4" fill="#4e4888"/>
<polygon points="949.6,463.2 946.1,480.9 952,482 955.4,464.4" fill="#2c2450" stroke="#1c1830" stroke-width="0.6"/>
<polygon points="950.7,463.4 947.2,481.1 949.5,481.5 952.9,463.9" fill="#4e4888"/>
<polygon points="949.2,441.8 933.5,446.9 935.3,452.6 951,447.5" fill="#2c2450" stroke="#1c1830" stroke-width="0.6"/>
<polygon points="935.4,449.8 919.6,458.5 922.6,463.8 938.3,455.1" fill="#2c2450" stroke="#1c1830" stroke-width="0.6"/>
<polygon points="936.6,452.1 920.9,460.8 922,462.8 937.7,454.1" fill="#4e4888"/>
<polygon points="934.4,443.2 916.6,445.4 917.3,451.3 935.2,449.1" fill="#2c2450" stroke="#1c1830" stroke-width="0.6"/>
<polygon points="934.6,444.3 916.7,446.5 917,448.8 934.9,446.6" fill="#4e4888"/>
<polygon points="954.7,436.2 945,422.8 940.1,426.4 949.8,439.7" fill="#2c2450" stroke="#1c1830" stroke-width="0.6"/>
<polygon points="942.8,425.6 929.7,413.3 925.6,417.7 938.7,429.9" fill="#2c2450" stroke="#1c1830" stroke-width="0.6"/>
<polygon points="941.1,427.4 927.9,415.2 926.4,416.8 939.5,429.1" fill="#4e4888"/>
<polygon points="948.8,422.6 941.2,406.3 935.8,408.8 943.4,425.1" fill="#2c2450" stroke="#1c1830" stroke-width="0.6"/>
<polygon points="947.8,423.1 940.2,406.8 938.1,407.7 945.7,424" fill="#4e4888"/>
<polygon points="961.8,439.7 971.5,426.4 966.6,422.8 956.9,436.2" fill="#2c2450" stroke="#1c1830" stroke-width="0.6"/>
<polygon points="968.2,425.1 975.8,408.8 970.4,406.3 962.8,422.6" fill="#2c2450" stroke="#1c1830" stroke-width="0.6"/>
<polygon points="965.9,424 973.5,407.7 971.4,406.8 963.8,423.1" fill="#4e4888"/>
<polygon points="972.9,429.9 986,417.7 981.9,413.3 968.8,425.6" fill="#2c2450" stroke="#1c1830" stroke-width="0.6"/>
<polygon points="972.1,429.1 985.2,416.8 983.7,415.2 970.5,427.4" fill="#4e4888"/>
<polygon points="960.6,447.5 976.3,452.6 978.1,446.9 962.4,441.8" fill="#2c2450" stroke="#1c1830" stroke-width="0.6"/>
<polygon points="976.4,449.1 994.3,451.3 995,445.4 977.2,443.2" fill="#2c2450" stroke="#1c1830" stroke-width="0.6"/>
<polygon points="976.7,446.6 994.6,448.8 994.9,446.5 977,444.3" fill="#4e4888"/>
<polygon points="973.3,455.1 989,463.8 992,458.5 976.2,449.8" fill="#2c2450" stroke="#1c1830" stroke-width="0.6"/>
<polygon points="973.9,454.1 989.6,462.8 990.7,460.8 975,452.1" fill="#4e4888"/>
<path d="M1015.6,420.7 Q1078,423 1103.8,485.8" fill="none" stroke="#333" stroke-width="1.4" marker-end="url(#ah)"/>
<rect x="92" y="363.5" width="150.2" height="205.9" fill="#fff" stroke="#222" stroke-width="2.2"/>
<g>
<polygon points="126.8,379.8 130.2,382.2 134.4,382.1 136,385.9 139.6,388.1 138.9,392.2 140.7,395.9 137.9,399 137.4,403.1 133.4,404.1 130.8,407.4 126.8,406.1 122.8,407.4 120.2,404.1 116.2,403.1 115.7,399 112.9,395.9 114.7,392.2 114,388.1 117.6,385.9 119.2,382.1 123.4,382.2" fill="#3f66b8" stroke="#4f5472" stroke-width="1.6" stroke-linejoin="round"/>
<circle cx="126.8" cy="393.9" r="10.7" fill="#3e6cc8"/>
<circle cx="126.8" cy="393.9" r="10.1" fill="none" stroke="#6f96dc" stroke-width="1" stroke-dasharray="5.8 4.3"/>
<circle cx="126.8" cy="393.9" r="4.3" fill="#3a66c4"/>
</g>
<polygon points="127.5,454 127.5,440 121.7,440 121.7,454" fill="#3b2a1c"/>
<polygon points="127,438.7 120.9,427.7 116.1,430.3 122.2,441.3" fill="#3b2a1c"/>
<polygon points="127,441.3 133.1,430.3 128.3,427.7 122.2,438.7" fill="#3b2a1c"/>

<polygon points="124,509 124,494 118.5,494 118.5,509" fill="#2a2342"/>
<polygon points="123.7,492.7 117.4,480.7 112.6,483.3 118.9,495.3" fill="#2a2342"/>
<polygon points="123.7,495.3 130.4,483.3 125.6,480.7 118.9,492.7" fill="#2a2342"/>

<polygon points="125.8,541.7 119.1,535.7 116.8,538.3 123.4,544.3" fill="#d6a818" stroke="#9c7810" stroke-width="0.5249999999999999"/>
<polygon points="126.3,543 126.3,534 122.9,534 122.9,543" fill="#d6a818" stroke="#9c7810" stroke-width="0.5249999999999999"/>
<polygon points="125.7,544.3 132.6,538.5 130.4,535.9 123.5,541.7" fill="#d6a818" stroke="#9c7810" stroke-width="0.5249999999999999"/>
<circle cx="117.9" cy="537" r="3" fill="#d2a010" stroke="#9c7810" stroke-width="0.5"/>
<circle cx="124.6" cy="534" r="3" fill="#d2a010" stroke="#9c7810" stroke-width="0.5"/>
<circle cx="131.5" cy="537.2" r="3" fill="#d2a010" stroke="#9c7810" stroke-width="0.5"/>
<polygon points="127,554 127,541.5 122.2,541.5 122.2,554" fill="#dcae20" stroke="#9c7810" stroke-width="0.5249999999999999"/>
<polygon points="125.2,552.4 125.2,543 124,543 124,552.4" fill="#f0cc50"/>
<text x="181.8" y="399" font-family='"Liberation Serif", serif' font-size="16.5" font-weight="bold" fill="#000" textLength="36.7" lengthAdjust="spacingAndGlyphs">HCV</text>
<text x="181.8" y="444.5" font-family='"Liberation Serif", serif' font-size="16.5" font-weight="bold" fill="#000" textLength="27.9" lengthAdjust="spacingAndGlyphs">IgG</text>
<text x="181" y="498" font-family='"Liberation Serif", serif' font-size="16.5" font-weight="bold" fill="#000" textLength="29.4" lengthAdjust="spacingAndGlyphs">IgM</text>
<text x="181" y="547.1" font-family='"Liberation Serif", serif' font-size="16.5" font-weight="bold" fill="#000" textLength="29.4" lengthAdjust="spacingAndGlyphs">C1q</text>
<g>
<polygon points="492.8,306.8 495.9,308.9 499.6,308.8 501.1,312.2 504.3,314.2 503.6,317.8 505.3,321.2 502.7,323.9 502.3,327.7 498.7,328.6 496.4,331.5 492.8,330.3 489.2,331.5 486.9,328.6 483.3,327.7 482.9,323.9 480.3,321.2 482,317.8 481.3,314.2 484.5,312.2 486,308.8 489.7,308.9" fill="#3f66b8" stroke="#4f5472" stroke-width="1.4" stroke-linejoin="round"/>
<circle cx="492.8" cy="319.4" r="9.6" fill="#3e6cc8"/>
<circle cx="492.8" cy="319.4" r="9.1" fill="none" stroke="#6f96dc" stroke-width="0.9" stroke-dasharray="5.2 3.9"/>
<circle cx="492.8" cy="319.4" r="3.9" fill="#3a66c4"/>
</g>
<g>
<polygon points="534.8,298.4 537.9,300.5 541.6,300.4 543.1,303.8 546.3,305.8 545.6,309.4 547.3,312.8 544.7,315.5 544.3,319.3 540.7,320.2 538.4,323.1 534.8,321.9 531.2,323.1 528.9,320.2 525.3,319.3 524.9,315.5 522.3,312.8 524,309.4 523.3,305.8 526.5,303.8 528,300.4 531.7,300.5" fill="#3f66b8" stroke="#4f5472" stroke-width="1.4" stroke-linejoin="round"/>
<circle cx="534.8" cy="311" r="9.6" fill="#3e6cc8"/>
<circle cx="534.8" cy="311" r="9.1" fill="none" stroke="#6f96dc" stroke-width="0.9" stroke-dasharray="5.2 3.9"/>
<circle cx="534.8" cy="311" r="3.9" fill="#3a66c4"/>
</g>
<g>
<polygon points="452.2,360.7 455.3,362.8 459,362.7 460.5,366.1 463.7,368.1 463,371.7 464.7,375.1 462.1,377.8 461.7,381.6 458.1,382.5 455.8,385.4 452.2,384.2 448.6,385.4 446.3,382.5 442.7,381.6 442.3,377.8 439.7,375.1 441.4,371.7 440.7,368.1 443.9,366.1 445.4,362.7 449.1,362.8" fill="#3f66b8" stroke="#4f5472" stroke-width="1.4" stroke-linejoin="round"/>
<circle cx="452.2" cy="373.3" r="9.6" fill="#3e6cc8"/>
<circle cx="452.2" cy="373.3" r="9.1" fill="none" stroke="#6f96dc" stroke-width="0.9" stroke-dasharray="5.2 3.9"/>
<circle cx="452.2" cy="373.3" r="3.9" fill="#3a66c4"/>
</g>
<g>
<polygon points="494.9,371.2 498,373.3 501.7,373.2 503.2,376.6 506.4,378.6 505.7,382.2 507.4,385.6 504.8,388.3 504.4,392.1 500.8,393 498.5,395.9 494.9,394.7 491.3,395.9 489,393 485.4,392.1 485,388.3 482.4,385.6 484.1,382.2 483.4,378.6 486.6,376.6 488.1,373.2 491.8,373.3" fill="#3f66b8" stroke="#4f5472" stroke-width="1.4" stroke-linejoin="round"/>
<circle cx="494.9" cy="383.8" r="9.6" fill="#3e6cc8"/>
<circle cx="494.9" cy="383.8" r="9.1" fill="none" stroke="#6f96dc" stroke-width="0.9" stroke-dasharray="5.2 3.9"/>
<circle cx="494.9" cy="383.8" r="3.9" fill="#3a66c4"/>
</g>
<polygon points="529.7,397.4 527.6,365.2 522.2,365.6 524.3,397.8" fill="#c9652c" stroke="#3a2414" stroke-width="0.7"/>
<polygon points="524.3,397.8 522.2,365.6 516.8,366 518.9,398.2" fill="#c9652c" stroke="#3a2414" stroke-width="0.7"/>
<polygon points="527,362.4 507.4,333 502.6,336.2 522.2,365.6" fill="#f7caa2" stroke="#3a2414" stroke-width="0.7"/>
<polygon points="522.2,365.6 502.6,336.2 497.8,339.4 517.4,368.8" fill="#c9652c" stroke="#3a2414" stroke-width="0.7"/>
<polygon points="527.7,367.5 538.2,336.7 532.7,334.8 522.2,365.6" fill="#c9652c" stroke="#3a2414" stroke-width="0.7"/>
<polygon points="522.2,365.6 532.7,334.8 527.2,332.9 516.7,363.7" fill="#f7caa2" stroke="#3a2414" stroke-width="0.7"/>
<circle cx="522.2" cy="365.6" r="1.6" fill="#fff" stroke="#333" stroke-width="0.5"/>
<polygon points="462.5,458.7 466.7,426.5 461.3,425.8 457.1,458" fill="#c9652c" stroke="#3a2414" stroke-width="0.7"/>
<polygon points="457.1,458 461.3,425.8 455.9,425.1 451.7,457.3" fill="#c9652c" stroke="#3a2414" stroke-width="0.7"/>
<polygon points="466.9,424.2 457.8,392 452.2,393.6 461.3,425.8" fill="#f7caa2" stroke="#3a2414" stroke-width="0.7"/>
<polygon points="461.3,425.8 452.2,393.6 446.6,395.2 455.7,427.4" fill="#c9652c" stroke="#3a2414" stroke-width="0.7"/>
<polygon points="465.9,429.3 486.2,402.7 481.6,399.2 461.3,425.8" fill="#c9652c" stroke="#3a2414" stroke-width="0.7"/>
<polygon points="461.3,425.8 481.6,399.2 477,395.7 456.7,422.3" fill="#f7caa2" stroke="#3a2414" stroke-width="0.7"/>
<circle cx="461.3" cy="425.8" r="1.6" fill="#fff" stroke="#333" stroke-width="0.5"/>
<text x="498.4" y="437.7" font-family='"Liberation Serif", serif' font-size="21" font-weight="bold" fill="#000" textLength="88.8" lengthAdjust="spacingAndGlyphs">HCV-IgG</text>
<text x="499.8" y="463.5" font-family='"Liberation Serif", serif' font-size="21" font-weight="bold" fill="#000" textLength="85.3" lengthAdjust="spacingAndGlyphs">immuno-</text>
<text x="495.6" y="488.7" font-family='"Liberation Serif", serif' font-size="21" font-weight="bold" fill="#000" textLength="95.8" lengthAdjust="spacingAndGlyphs">complexes</text>
<path d="M604.4,430.8 Q784,551.5 987.8,593.5" fill="none" stroke="#333" stroke-width="1.4" marker-end="url(#ah)"/>
<polygon points="1141.5,629.2 1141.5,661.7 1147.5,661.7 1147.5,629.2" fill="#6a2fa2" stroke="#2c1850" stroke-width="0.7"/>
<polygon points="1147.5,629.2 1147.5,661.7 1153.5,661.7 1153.5,629.2" fill="#6a2fa2" stroke="#2c1850" stroke-width="0.7"/>
<polygon points="1147.7,661.7 1155.2,691.7 1160.1,690.5 1152.6,660.4" fill="#9b92ec" stroke="#2c1850" stroke-width="0.7"/>
<polygon points="1152.6,660.4 1160.1,690.5 1166.8,688.8 1159.3,658.7" fill="#6a2fa2" stroke="#2c1850" stroke-width="0.7"/>
<polygon points="1135.7,658.7 1128.2,688.8 1134.9,690.5 1142.4,660.4" fill="#6a2fa2" stroke="#2c1850" stroke-width="0.7"/>
<polygon points="1142.4,660.4 1134.9,690.5 1139.8,691.7 1147.3,661.7" fill="#9b92ec" stroke="#2c1850" stroke-width="0.7"/>
<circle cx="1147.5" cy="661.7" r="1.8" fill="#fff" stroke="#333" stroke-width="0.5"/>
<polygon points="1138.5,618.3 1107.6,628.4 1109.5,634.1 1140.4,624" fill="#6a2fa2" stroke="#2c1850" stroke-width="0.7"/>
<polygon points="1140.4,624 1109.5,634.1 1111.3,639.8 1142.2,629.7" fill="#6a2fa2" stroke="#2c1850" stroke-width="0.7"/>
<polygon points="1109.6,634.2 1083.3,650.6 1085.9,654.9 1112.2,638.5" fill="#9b92ec" stroke="#2c1850" stroke-width="0.7"/>
<polygon points="1112.2,638.5 1085.9,654.9 1089.6,660.8 1115.9,644.4" fill="#6a2fa2" stroke="#2c1850" stroke-width="0.7"/>
<polygon points="1108.6,621.9 1077.7,624.1 1078.2,631 1109.1,628.8" fill="#6a2fa2" stroke="#2c1850" stroke-width="0.7"/>
<polygon points="1109.1,628.8 1078.2,631 1078.5,636 1109.4,633.9" fill="#9b92ec" stroke="#2c1850" stroke-width="0.7"/>
<circle cx="1109.5" cy="634.1" r="1.8" fill="#fff" stroke="#333" stroke-width="0.5"/>
<polygon points="1147.9,612.1 1128.8,585.8 1124,589.3 1143.1,615.6" fill="#6a2fa2" stroke="#2c1850" stroke-width="0.7"/>
<polygon points="1143.1,615.6 1124,589.3 1119.1,592.9 1138.2,619.2" fill="#6a2fa2" stroke="#2c1850" stroke-width="0.7"/>
<polygon points="1123.9,589.5 1100.1,569.6 1096.9,573.4 1120.6,593.3" fill="#9b92ec" stroke="#2c1850" stroke-width="0.7"/>
<polygon points="1120.6,593.3 1096.9,573.4 1092.4,578.7 1116.2,598.7" fill="#6a2fa2" stroke="#2c1850" stroke-width="0.7"/>
<polygon points="1135.3,584.8 1123.7,556 1117.2,558.6 1128.8,587.4" fill="#6a2fa2" stroke="#2c1850" stroke-width="0.7"/>
<polygon points="1128.8,587.4 1117.2,558.6 1112.5,560.5 1124.2,589.3" fill="#9b92ec" stroke="#2c1850" stroke-width="0.7"/>
<circle cx="1124" cy="589.3" r="1.8" fill="#fff" stroke="#333" stroke-width="0.5"/>
<polygon points="1156.8,619.2 1175.9,592.9 1171,589.3 1151.9,615.6" fill="#6a2fa2" stroke="#2c1850" stroke-width="0.7"/>
<polygon points="1151.9,615.6 1171,589.3 1166.2,585.8 1147.1,612.1" fill="#6a2fa2" stroke="#2c1850" stroke-width="0.7"/>
<polygon points="1170.8,589.3 1182.5,560.5 1177.8,558.6 1166.2,587.4" fill="#9b92ec" stroke="#2c1850" stroke-width="0.7"/>
<polygon points="1166.2,587.4 1177.8,558.6 1171.3,556 1159.7,584.8" fill="#6a2fa2" stroke="#2c1850" stroke-width="0.7"/>
<polygon points="1178.8,598.7 1202.6,578.7 1198.1,573.4 1174.4,593.3" fill="#6a2fa2" stroke="#2c1850" stroke-width="0.7"/>
<polygon points="1174.4,593.3 1198.1,573.4 1194.9,569.6 1171.1,589.5" fill="#9b92ec" stroke="#2c1850" stroke-width="0.7"/>
<circle cx="1171" cy="589.3" r="1.8" fill="#fff" stroke="#333" stroke-width="0.5"/>
<polygon points="1152.8,629.7 1183.7,639.8 1185.5,634.1 1154.6,624" fill="#6a2fa2" stroke="#2c1850" stroke-width="0.7"/>
<polygon points="1154.6,624 1185.5,634.1 1187.4,628.4 1156.5,618.3" fill="#6a2fa2" stroke="#2c1850" stroke-width="0.7"/>
<polygon points="1185.6,633.9 1216.5,636 1216.8,631 1185.9,628.8" fill="#9b92ec" stroke="#2c1850" stroke-width="0.7"/>
<polygon points="1185.9,628.8 1216.8,631 1217.3,624.1 1186.4,621.9" fill="#6a2fa2" stroke="#2c1850" stroke-width="0.7"/>
<polygon points="1179.1,644.4 1205.4,660.8 1209.1,654.9 1182.8,638.5" fill="#6a2fa2" stroke="#2c1850" stroke-width="0.7"/>
<polygon points="1182.8,638.5 1209.1,654.9 1211.7,650.6 1185.4,634.2" fill="#9b92ec" stroke="#2c1850" stroke-width="0.7"/>
<circle cx="1185.5" cy="634.1" r="1.8" fill="#fff" stroke="#333" stroke-width="0.5"/>
<g>
<polygon points="1161.7,459.9 1164.8,462 1168.5,461.9 1170,465.3 1173.2,467.3 1172.5,470.9 1174.2,474.3 1171.6,477 1171.2,480.8 1167.6,481.7 1165.3,484.6 1161.7,483.4 1158.1,484.6 1155.8,481.7 1152.2,480.8 1151.8,477 1149.2,474.3 1150.9,470.9 1150.2,467.3 1153.4,465.3 1154.9,461.9 1158.6,462" fill="#3f66b8" stroke="#4f5472" stroke-width="1.4" stroke-linejoin="round"/>
<circle cx="1161.7" cy="472.5" r="9.6" fill="#3e6cc8"/>
<circle cx="1161.7" cy="472.5" r="9.1" fill="none" stroke="#6f96dc" stroke-width="0.9" stroke-dasharray="5.2 3.9"/>
<circle cx="1161.7" cy="472.5" r="3.9" fill="#3a66c4"/>
</g>
<polygon points="1193.7,551.4 1192.1,519.7 1186.7,520 1188.3,551.7" fill="#c9652c" stroke="#3a2414" stroke-width="0.7"/>
<polygon points="1188.3,551.7 1186.7,520 1181.3,520.3 1182.9,552" fill="#c9652c" stroke="#3a2414" stroke-width="0.7"/>
<polygon points="1191.9,517.5 1176.9,486.5 1171.7,489 1186.7,520" fill="#f7caa2" stroke="#3a2414" stroke-width="0.7"/>
<polygon points="1186.7,520 1171.7,489 1166.5,491.5 1181.5,522.5" fill="#c9652c" stroke="#3a2414" stroke-width="0.7"/>
<polygon points="1191.8,522.7 1207.6,492.7 1202.5,490 1186.7,520" fill="#c9652c" stroke="#3a2414" stroke-width="0.7"/>
<polygon points="1186.7,520 1202.5,490 1197.4,487.3 1181.6,517.3" fill="#f7caa2" stroke="#3a2414" stroke-width="0.7"/>
<circle cx="1186.7" cy="520" r="1.6" fill="#fff" stroke="#333" stroke-width="0.5"/>
<g>
<polygon points="1049.2,529.9 1052.3,532 1056,531.9 1057.5,535.3 1060.7,537.3 1060,540.9 1061.7,544.3 1059.1,547 1058.7,550.8 1055.1,551.7 1052.8,554.6 1049.2,553.4 1045.6,554.6 1043.3,551.7 1039.7,550.8 1039.3,547 1036.7,544.3 1038.4,540.9 1037.7,537.3 1040.9,535.3 1042.4,531.9 1046.1,532" fill="#3f66b8" stroke="#4f5472" stroke-width="1.4" stroke-linejoin="round"/>
<circle cx="1049.2" cy="542.5" r="9.6" fill="#3e6cc8"/>
<circle cx="1049.2" cy="542.5" r="9.1" fill="none" stroke="#6f96dc" stroke-width="0.9" stroke-dasharray="5.2 3.9"/>
<circle cx="1049.2" cy="542.5" r="3.9" fill="#3a66c4"/>
</g>
<polygon points="1067.9,626.7 1067.9,595 1062.5,595 1062.5,626.7" fill="#c9652c" stroke="#3a2414" stroke-width="0.7"/>
<polygon points="1062.5,626.7 1062.5,595 1057.1,595 1057.1,626.7" fill="#c9652c" stroke="#3a2414" stroke-width="0.7"/>
<polygon points="1067.8,592.8 1054.5,561.1 1049.2,563.3 1062.5,595" fill="#f7caa2" stroke="#3a2414" stroke-width="0.7"/>
<polygon points="1062.5,595 1049.2,563.3 1043.9,565.5 1057.2,597.2" fill="#c9652c" stroke="#3a2414" stroke-width="0.7"/>
<polygon points="1067.6,597.7 1083.4,567.7 1078.3,565 1062.5,595" fill="#c9652c" stroke="#3a2414" stroke-width="0.7"/>
<polygon points="1062.5,595 1078.3,565 1073.2,562.3 1057.4,592.3" fill="#f7caa2" stroke="#3a2414" stroke-width="0.7"/>
<circle cx="1062.5" cy="595" r="1.6" fill="#fff" stroke="#333" stroke-width="0.5"/>
<polygon points="1208.9,599.9 1212,588.3 1207.5,587.1 1204.5,598.7" fill="#d6a818" stroke="#9c7810" stroke-width="0.7"/>
<polygon points="1207.8,601.3 1218.4,595.8 1216.3,591.7 1205.6,597.3" fill="#d6a818" stroke="#9c7810" stroke-width="0.7"/>
<polygon points="1205.8,601.4 1216.9,606 1218.7,601.8 1207.6,597.2" fill="#d6a818" stroke="#9c7810" stroke-width="0.7"/>
<circle cx="1209.7" cy="587.7" r="4" fill="#d2a010" stroke="#9c7810" stroke-width="0.7"/>
<circle cx="1217.4" cy="593.8" r="4" fill="#d2a010" stroke="#9c7810" stroke-width="0.7"/>
<circle cx="1217.8" cy="603.9" r="4" fill="#d2a010" stroke="#9c7810" stroke-width="0.7"/>
<polygon points="1187.5,612.9 1210,601.3 1207,595.5 1184.5,607.1" fill="#dcae20" stroke="#9c7810" stroke-width="0.7"/>
<polygon points="1189.5,609.1 1207.1,600 1206.3,598.6 1188.7,607.7" fill="#f0cc50"/>
<polygon points="1103.7,666.7 1102.3,678.6 1106.9,679.2 1108.3,667.3" fill="#d6a818" stroke="#9c7810" stroke-width="0.7"/>
<polygon points="1104.7,665.1 1094.9,672 1097.5,675.8 1107.3,668.9" fill="#d6a818" stroke="#9c7810" stroke-width="0.7"/>
<polygon points="1106.6,664.8 1095,661.7 1093.8,666.2 1105.4,669.2" fill="#d6a818" stroke="#9c7810" stroke-width="0.7"/>
<circle cx="1104.6" cy="678.9" r="4" fill="#d2a010" stroke="#9c7810" stroke-width="0.7"/>
<circle cx="1096.2" cy="673.9" r="4" fill="#d2a010" stroke="#9c7810" stroke-width="0.7"/>
<circle cx="1094.4" cy="663.9" r="4" fill="#d2a010" stroke="#9c7810" stroke-width="0.7"/>
<polygon points="1121.1,652.3 1102.5,665.5 1106.2,670.8 1124.9,657.7" fill="#dcae20" stroke="#9c7810" stroke-width="0.7"/>
<polygon points="1120,656.1 1105.5,666.3 1106.5,667.7 1120.9,657.5" fill="#f0cc50"/>
<text x="1245" y="498.3" font-family='"Liberation Serif", serif' font-size="21" font-weight="bold" fill="#000" textLength="43.3" lengthAdjust="spacingAndGlyphs">Cold</text>
<text x="1210.8" y="524.2" font-family='"Liberation Serif", serif' font-size="21" font-weight="bold" fill="#000" textLength="111.7" lengthAdjust="spacingAndGlyphs">Precipitable</text>
<text x="1228.3" y="550" font-family='"Liberation Serif", serif' font-size="21" font-weight="bold" fill="#000" textLength="77.5" lengthAdjust="spacingAndGlyphs">Immune</text>
<text x="1219.2" y="575" font-family='"Liberation Serif", serif' font-size="21" font-weight="bold" fill="#000" textLength="95" lengthAdjust="spacingAndGlyphs">complexes</text>
<path d="M1023.8,642.5 Q714.5,548.5 347,661.2" fill="none" stroke="#333" stroke-width="1.4" marker-end="url(#ah)"/>
<path d="M229,890 C228,862 255,852 290,847 C330,842 370,838 420,840 C470,842 500,852 530,853 C550,853 566,858 566,880 C566,910 550,940 520,952 C480,965 400,965 340,962 C290,958 240,930 229,890 Z" fill="#fdd7a0" stroke="#f2b45a" stroke-width="1.6"/>
<ellipse cx="466.6" cy="890.9" rx="47.7" ry="34.6" fill="#fd9560" stroke="#f06030" stroke-width="1.6"/>
<text x="287.5" y="914.7" font-family='"Liberation Serif", serif' font-size="19" font-weight="bold" fill="#000" textLength="108" lengthAdjust="spacingAndGlyphs">Endothelial</text>
<text x="323.5" y="940.8" font-family='"Liberation Serif", serif' font-size="19" font-weight="bold" fill="#000" textLength="36" lengthAdjust="spacingAndGlyphs">Cell</text>
<polygon points="286.9,718.9 270.9,706.1 269,708.4 285,721.2" fill="#a8531f" stroke="#3a2414" stroke-width="0.5"/>
<polygon points="285,721.2 269,708.4 267.1,710.7 283.1,723.5" fill="#8a4520" stroke="#3a2414" stroke-width="0.5"/>
<polygon points="270.5,705.8 252.5,695.1 251,697.7 269,708.4" fill="#b86a3a" stroke="#3a2414" stroke-width="0.5"/>
<polygon points="269,708.4 251,697.7 249.5,700.3 267.5,711" fill="#a8531f" stroke="#3a2414" stroke-width="0.5"/>
<polygon points="272,708 268.9,685.6 265.9,686 269,708.4" fill="#a8531f" stroke="#3a2414" stroke-width="0.5"/>
<polygon points="269,708.4 265.9,686 262.9,686.4 266,708.8" fill="#b86a3a" stroke="#3a2414" stroke-width="0.5"/>

<g>
<polygon points="238.7,686.7 240.6,688.1 242.9,688 243.8,690.1 245.8,691.3 245.4,693.5 246.4,695.6 244.8,697.3 244.6,699.6 242.3,700.2 240.9,701.9 238.7,701.2 236.5,701.9 235.1,700.2 232.8,699.6 232.6,697.3 231,695.6 232,693.5 231.6,691.3 233.6,690.1 234.5,688 236.8,688.1" fill="#3f66b8" stroke="#4f5472" stroke-width="0.9" stroke-linejoin="round"/>
<circle cx="238.7" cy="694.5" r="5.9" fill="#3e6cc8"/>
<circle cx="238.7" cy="694.5" r="5.6" fill="none" stroke="#6f96dc" stroke-width="0.6" stroke-dasharray="3.2 2.4"/>
<circle cx="238.7" cy="694.5" r="2.4" fill="#3a66c4"/>
</g>
<polygon points="295.4,764.2 295.4,743.2 290.9,743.2 290.9,764.2" fill="#4a2a8e" stroke="#1a1238" stroke-width="0.7"/>
<polygon points="290.9,764.2 290.9,743.2 286.4,743.2 286.4,764.2" fill="#4a2a8e" stroke="#1a1238" stroke-width="0.7"/>
<polygon points="290.7,743.5 285.2,724.2 281.6,725.3 287.1,744.5" fill="#7d78d6" stroke="#1a1238" stroke-width="0.7"/>
<polygon points="287.1,744.5 281.6,725.3 276.6,726.7 282.1,745.9" fill="#4a2a8e" stroke="#1a1238" stroke-width="0.7"/>
<polygon points="299.7,745.9 305.2,726.7 300.2,725.3 294.7,744.5" fill="#4a2a8e" stroke="#1a1238" stroke-width="0.7"/>
<polygon points="294.7,744.5 300.2,725.3 296.6,724.2 291.1,743.5" fill="#7d78d6" stroke="#1a1238" stroke-width="0.7"/>
<circle cx="290.9" cy="743.2" r="1.8" fill="#fff" stroke="#333" stroke-width="0.5"/>
<polygon points="297.5,772.3 317.5,765.8 316.1,761.5 296.1,768" fill="#4a2a8e" stroke="#1a1238" stroke-width="0.7"/>
<polygon points="296.1,768 316.1,761.5 314.7,757.2 294.7,763.7" fill="#4a2a8e" stroke="#1a1238" stroke-width="0.7"/>
<polygon points="315.8,761.4 332.4,750.2 330.3,747.1 313.7,758.3" fill="#7d78d6" stroke="#1a1238" stroke-width="0.7"/>
<polygon points="313.7,758.3 330.3,747.1 327.4,742.8 310.8,754" fill="#4a2a8e" stroke="#1a1238" stroke-width="0.7"/>
<polygon points="316.2,770.8 336.2,770.1 336,764.8 316,765.5" fill="#4a2a8e" stroke="#1a1238" stroke-width="0.7"/>
<polygon points="316,765.5 336,764.8 335.9,761.1 315.9,761.8" fill="#7d78d6" stroke="#1a1238" stroke-width="0.7"/>
<circle cx="316.1" cy="761.5" r="1.8" fill="#fff" stroke="#333" stroke-width="0.5"/>
<polygon points="290.5,776.8 302.8,793.8 306.5,791.1 294.1,774.1" fill="#4a2a8e" stroke="#1a1238" stroke-width="0.7"/>
<polygon points="294.1,774.1 306.5,791.1 310.1,788.5 297.8,771.5" fill="#4a2a8e" stroke="#1a1238" stroke-width="0.7"/>
<polygon points="306.5,790.8 322.2,803.1 324.6,800.2 308.8,787.8" fill="#7d78d6" stroke="#1a1238" stroke-width="0.7"/>
<polygon points="308.8,787.8 324.6,800.2 327.8,796 312,783.7" fill="#4a2a8e" stroke="#1a1238" stroke-width="0.7"/>
<polygon points="297.7,794.1 304.6,812.9 309.5,811.1 302.6,792.3" fill="#4a2a8e" stroke="#1a1238" stroke-width="0.7"/>
<polygon points="302.6,792.3 309.5,811.1 313,809.8 306.2,791" fill="#7d78d6" stroke="#1a1238" stroke-width="0.7"/>
<circle cx="306.5" cy="791.1" r="1.8" fill="#fff" stroke="#333" stroke-width="0.5"/>
<polygon points="284,771.5 271.7,788.5 275.3,791.1 287.7,774.1" fill="#4a2a8e" stroke="#1a1238" stroke-width="0.7"/>
<polygon points="287.7,774.1 275.3,791.1 279,793.8 291.3,776.8" fill="#4a2a8e" stroke="#1a1238" stroke-width="0.7"/>
<polygon points="275.6,791 268.8,809.8 272.3,811.1 279.2,792.3" fill="#7d78d6" stroke="#1a1238" stroke-width="0.7"/>
<polygon points="279.2,792.3 272.3,811.1 277.2,812.9 284.1,794.1" fill="#4a2a8e" stroke="#1a1238" stroke-width="0.7"/>
<polygon points="269.8,783.7 254,796 257.2,800.2 273,787.8" fill="#4a2a8e" stroke="#1a1238" stroke-width="0.7"/>
<polygon points="273,787.8 257.2,800.2 259.6,803.1 275.3,790.8" fill="#7d78d6" stroke="#1a1238" stroke-width="0.7"/>
<circle cx="275.3" cy="791.1" r="1.8" fill="#fff" stroke="#333" stroke-width="0.5"/>
<polygon points="287.1,763.7 267.1,757.2 265.7,761.5 285.7,768" fill="#4a2a8e" stroke="#1a1238" stroke-width="0.7"/>
<polygon points="285.7,768 265.7,761.5 264.3,765.8 284.3,772.3" fill="#4a2a8e" stroke="#1a1238" stroke-width="0.7"/>
<polygon points="265.9,761.8 245.9,761.1 245.8,764.8 265.8,765.5" fill="#7d78d6" stroke="#1a1238" stroke-width="0.7"/>
<polygon points="265.8,765.5 245.8,764.8 245.6,770.1 265.6,770.8" fill="#4a2a8e" stroke="#1a1238" stroke-width="0.7"/>
<polygon points="271,754 254.4,742.8 251.5,747.1 268.1,758.3" fill="#4a2a8e" stroke="#1a1238" stroke-width="0.7"/>
<polygon points="268.1,758.3 251.5,747.1 249.4,750.2 266,761.4" fill="#7d78d6" stroke="#1a1238" stroke-width="0.7"/>
<circle cx="265.7" cy="761.5" r="1.8" fill="#fff" stroke="#333" stroke-width="0.5"/>
<polygon points="313.4,736.7 309.4,729.3 306.6,730.9 310.6,738.3" fill="#d6a818" stroke="#9c7810" stroke-width="0.48999999999999994"/>
<polygon points="313.5,738 316.4,730.1 313.3,729.1 310.5,737" fill="#d6a818" stroke="#9c7810" stroke-width="0.48999999999999994"/>
<polygon points="312.6,739 320.4,736.1 319.3,733.1 311.4,736" fill="#d6a818" stroke="#9c7810" stroke-width="0.48999999999999994"/>
<circle cx="308" cy="730.1" r="2.8" fill="#d2a010" stroke="#9c7810" stroke-width="0.5"/>
<circle cx="314.8" cy="729.6" r="2.8" fill="#d2a010" stroke="#9c7810" stroke-width="0.5"/>
<circle cx="319.9" cy="734.6" r="2.8" fill="#d2a010" stroke="#9c7810" stroke-width="0.5"/>
<polygon points="309.6,750.8 314.6,737 310.3,735.4 305.4,749.2" fill="#dcae20" stroke="#9c7810" stroke-width="0.48999999999999994"/>
<polygon points="308.7,748.3 312.5,737.7 311.5,737.3 307.6,747.9" fill="#f0cc50"/>
<polygon points="344.5,798.5 352.5,795.7 351.4,792.7 343.5,795.5" fill="#d6a818" stroke="#9c7810" stroke-width="0.48999999999999994"/>
<polygon points="343.2,798.4 350.6,802.4 352.2,799.6 344.8,795.6" fill="#d6a818" stroke="#9c7810" stroke-width="0.48999999999999994"/>
<polygon points="342.4,797.3 344.1,805.6 347.3,804.9 345.6,796.7" fill="#d6a818" stroke="#9c7810" stroke-width="0.48999999999999994"/>
<circle cx="351.9" cy="794.2" r="2.8" fill="#d2a010" stroke="#9c7810" stroke-width="0.5"/>
<circle cx="351.4" cy="801" r="2.8" fill="#d2a010" stroke="#9c7810" stroke-width="0.5"/>
<circle cx="345.7" cy="805.2" r="2.8" fill="#d2a010" stroke="#9c7810" stroke-width="0.5"/>
<polygon points="330.9,792.5 344.1,799.7 346.3,795.7 333.1,788.5" fill="#dcae20" stroke="#9c7810" stroke-width="0.48999999999999994"/>
<polygon points="333.5,792 343.7,797.5 344.3,796.5 334.1,791" fill="#f0cc50"/>
<polygon points="291.8,811 297.2,817.5 299.6,815.4 294.2,809" fill="#d6a818" stroke="#9c7810" stroke-width="0.48999999999999994"/>
<polygon points="291.4,809.8 290.2,818.1 293.4,818.5 294.6,810.2" fill="#d6a818" stroke="#9c7810" stroke-width="0.48999999999999994"/>
<polygon points="292.1,808.6 285,813.1 286.7,815.8 293.9,811.4" fill="#d6a818" stroke="#9c7810" stroke-width="0.48999999999999994"/>
<circle cx="298.4" cy="816.4" r="2.8" fill="#d2a010" stroke="#9c7810" stroke-width="0.5"/>
<circle cx="291.8" cy="818.3" r="2.8" fill="#d2a010" stroke="#9c7810" stroke-width="0.5"/>
<circle cx="285.9" cy="814.4" r="2.8" fill="#d2a010" stroke="#9c7810" stroke-width="0.5"/>
<polygon points="292.4,797.7 290.6,811.1 295.1,811.7 297,798.3" fill="#dcae20" stroke="#9c7810" stroke-width="0.48999999999999994"/>
<polygon points="293.9,799.7 292.4,809.9 293.6,810.1 295,799.9" fill="#f0cc50"/>
<circle cx="443.5" cy="708" r="30.5" fill="#b9a2da" stroke="#3a2a4a" stroke-width="1.8"/>
<circle cx="498.3" cy="828" r="30.5" fill="#b9a2da" stroke="#3a2a4a" stroke-width="1.8"/>
<circle cx="377" cy="827" r="28.5" fill="url(#c4g)" stroke="#8a50c8" stroke-width="1"/>
<circle cx="599" cy="713" r="29" fill="url(#c3g)" stroke="#e06050" stroke-width="1"/>
<text x="428.5" y="714" font-family='"Liberation Sans", sans-serif' font-size="15" font-weight="bold" fill="#1a1025" textLength="31.5" lengthAdjust="spacingAndGlyphs">C4c</text>
<text x="363.5" y="834.5" font-family='"Liberation Sans", sans-serif' font-size="22" font-weight="bold" fill="#1a1025" textLength="27" lengthAdjust="spacingAndGlyphs">C4</text>
<text x="482.5" y="834" font-family='"Liberation Sans", sans-serif' font-size="15" font-weight="bold" fill="#1a1025" textLength="31.5" lengthAdjust="spacingAndGlyphs">C4d</text>
<text x="584.5" y="722" font-family='"Liberation Sans", sans-serif' font-size="22" font-weight="bold" fill="#fff" textLength="27.5" lengthAdjust="spacingAndGlyphs">C3</text>
<text x="478" y="680.2" font-family='"Liberation Serif", serif' font-size="16" font-weight="bold" fill="#000" textLength="69" lengthAdjust="spacingAndGlyphs">Classical</text>
<text x="479.5" y="701.2" font-family='"Liberation Serif", serif' font-size="16" font-weight="bold" fill="#000" textLength="67.5" lengthAdjust="spacingAndGlyphs">Pathway</text>
<line x1="478" y1="707.7" x2="565.8" y2="707.7" stroke="#111" stroke-width="3" marker-end="url(#ahb)"/>
<line x1="409.8" y1="813.8" x2="426.2" y2="746.2" stroke="#111" stroke-width="3" marker-end="url(#ahb)"/>
<line x1="412.8" y1="824.2" x2="462.2" y2="824.2" stroke="#111" stroke-width="3" marker-end="url(#ahb)"/>
<line x1="636.5" y1="712" x2="686" y2="712" stroke="#111" stroke-width="3" marker-end="url(#ahb)"/>
<line x1="636.1" y1="724.9" x2="673.9" y2="828.5" stroke="#111" stroke-width="3" marker-end="url(#ahb)"/>
<line x1="774.7" y1="890.1" x2="823.8" y2="890.1" stroke="#111" stroke-width="3" marker-end="url(#ahb)"/>
<line x1="1174.6" y1="1003.1" x2="1224" y2="1003.1" stroke="#111" stroke-width="2.4" marker-end="url(#ahb)"/>
<polygon points="735,656.5 772.5,691 735,726 697,691" fill="#fff" stroke="#1f50a8" stroke-width="2.4"/>
<text x="720" y="698" font-family='"Liberation Sans", sans-serif' font-size="17" font-weight="bold" fill="#111" textLength="30.5" lengthAdjust="spacingAndGlyphs">C3a</text>
<polygon points="758.5,710 795.5,738 758.5,766.5 721.5,738" fill="#8c88f0" stroke="#3a3a88" stroke-width="1.5"/>
<text x="744" y="743.5" font-family='"Liberation Sans", sans-serif' font-size="17" font-weight="bold" fill="#eef0ff" textLength="29" lengthAdjust="spacingAndGlyphs">C5a</text>
<polygon points="690,837.6 726,897.8 651.5,897.8" fill="#fff" stroke="#2a60c0" stroke-width="2.4"/>
<text x="676.7" y="872" font-family='"Liberation Sans", sans-serif' font-size="14" font-weight="bold" fill="#111" textLength="27.3" lengthAdjust="spacingAndGlyphs">C3b</text>
<polygon points="738.3,860 776.8,920.3 699.8,920.3" fill="#8c88f0" stroke="#3a3a88" stroke-width="1.5"/>
<text x="725.7" y="895" font-family='"Liberation Sans", sans-serif' font-size="14" font-weight="bold" fill="#eef0ff" textLength="25.9" lengthAdjust="spacingAndGlyphs">C5b</text>
<circle cx="900" cy="762.4" r="57" fill="#f9d3f3" stroke="#e9a4c8" stroke-width="1.5"/>
<ellipse cx="899.7" cy="729.2" rx="15.8" ry="21" fill="#f6a4ae" stroke="#f090a0" stroke-width="0.8"/>
<ellipse cx="927" cy="751" rx="15.8" ry="21" fill="#f6a4ae" stroke="#f090a0" stroke-width="0.8"/>
<ellipse cx="912" cy="786.4" rx="15.8" ry="21" fill="#f6a4ae" stroke="#f090a0" stroke-width="0.8"/>
<path d="M834,718 C842,713 850,716 856,720 C862,716 868,716 866,724 C872,730 870,740 860,741 C850,743 838,742 832,738 C826,734 836,730 843,729 C838,726 828,724 834,718 Z" fill="#f4f8ff" stroke="#1f5cb0" stroke-width="2"/>
<path d="M858.7,719.5 L857.7,719.6 L856.7,719.7 L855.8,719.6 L855,719.4 L854.3,719.1 L853.7,718.7 L853.3,718.3 L853,717.8 L852.9,717.3 L852.9,716.8 L853.1,716.4 L853.5,715.9 L854,715.6 L854.7,715.3 L855.5,715.1 L856.3,715.1 L857.3,715.1 L858.2,715.3 L859.2,715.6 L860.2,716 L861.1,716.6 L862,717.2 L862.7,718 L863.4,718.8 L863.9,719.7 L864.3,720.7 L864.5,721.7 L864.5,722.7 L864.4,723.8 L864.1,724.7 L863.7,725.7 L863.1,726.5 L862.3,727.3 L861.5,728 L860.6,728.6 L859.6,729 L858.6,729.4 L857.6,729.6 L856.6,729.7 L855.6,729.6 L854.8,729.5 L854,729.2 L853.3,728.9 L852.8,728.5 L852.5,728 L852.3,727.6 L852.2,727.1 L852.4,726.6 L852.7,726.2 L853.1,725.8 L853.7,725.4 L854.4,725.2 L855.3,725.1 L856.2,725.1 L857.1,725.2 L858.1,725.4 L859.1,725.8 L860,726.3 L860.9,726.9 L861.7,727.6 L862.5,728.4 L863,729.3 L863.5,730.2 L863.8,731.2 L863.9,732.2 L863.9,733.3 L863.6,734.3 L863.3,735.2 L862.8,736.1 L862.1,737 L861.3,737.7 L860.4,738.3 L859.5,738.8 L858.5,739.2 L857.5,739.5 L856.5,739.6 L855.5,739.7 L854.6,739.6 L853.7,739.4 L853,739.1 L852.4,738.7 L852,738.3 L851.7,737.8 L851.6,737.3 L851.7,736.8 L851.9,736.4 L852.3,735.9 L852.8,735.6 L853.4,735.3 L854.2,735.1 L855.1,735.1 L856,735.1 L857,735.3 L858,735.6 L858.9,736 L859.9,736.6 L860.7,737.2 L861.5,738 L862.1,738.8 L862.7,739.7 L863,740.7 L863.2,741.7 L863.3,742.7 L863.1,743.8 L862.9,744.7 L862.4,745.7 L861.8,746.5 L861.1,747.3 L860.3,748 L859.3,748.6 L858.4,749 L857.4,749.4 L856.3,749.6 L855.3,749.7 L854.4,749.6 L853.5,749.5 L852.7,749.2 L852.1,748.9 L851.6,748.5 L851.2,748" fill="none" stroke="#1a4fa8" stroke-width="1.9" stroke-linejoin="round"/>
<path d="M828,758 C836,753 846,755 852,760 C860,756 866,760 862,768 C868,775 860,783 850,782 C840,784 830,782 825,778 C822,773 832,770 838,769 C832,766 822,763 828,758 Z" fill="#dcdcf4" stroke="#50507a" stroke-width="1.3"/>
<path d="M854.7,757.5 L853.7,757.7 L852.7,757.7 L851.8,757.6 L851,757.4 L850.3,757.2 L849.7,756.8 L849.3,756.4 L849,755.9 L848.9,755.5 L848.9,755 L849.1,754.6 L849.5,754.2 L850,753.8 L850.7,753.6 L851.4,753.4 L852.3,753.4 L853.2,753.4 L854.2,753.6 L855.2,753.9 L856.2,754.3 L857.1,754.9 L858,755.6 L858.7,756.3 L859.4,757.2 L859.9,758.1 L860.3,759.1 L860.5,760.2 L860.5,761.2 L860.4,762.2 L860.1,763.2 L859.7,764.2 L859.1,765.1 L858.4,765.9 L857.5,766.6 L856.6,767.2 L855.6,767.6 L854.6,768 L853.6,768.2 L852.6,768.3 L851.7,768.3 L850.8,768.2 L850,767.9 L849.4,767.6 L848.8,767.2 L848.5,766.8 L848.3,766.3 L848.2,765.9 L848.4,765.4 L848.7,765 L849.1,764.6 L849.7,764.3 L850.4,764.1 L851.2,764 L852.1,764 L853.1,764.1 L854.1,764.4 L855.1,764.7 L856,765.2 L856.9,765.8 L857.7,766.6 L858.4,767.4 L859,768.3 L859.5,769.3 L859.8,770.3 L859.9,771.3 L859.9,772.3 L859.7,773.4 L859.3,774.3 L858.8,775.3 L858.1,776.1 L857.3,776.9 L856.5,777.5 L855.5,778 L854.5,778.5 L853.5,778.7 L852.5,778.9 L851.5,778.9 L850.6,778.9 L849.8,778.7 L849,778.4 L848.5,778.1 L848,777.6 L847.7,777.2 L847.6,776.7 L847.7,776.3 L847.9,775.8 L848.2,775.4 L848.8,775.1 L849.4,774.8 L850.2,774.7 L851.1,774.6 L852,774.7 L853,774.8 L853.9,775.2 L854.9,775.6 L855.9,776.2 L856.7,776.8 L857.5,777.6 L858.1,778.5 L858.7,779.4 L859,780.4 L859.2,781.4 L859.3,782.4 L859.2,783.5 L858.9,784.5 L858.4,785.4 L857.8,786.3 L857.1,787.1 L856.3,787.8 L855.4,788.4 L854.4,788.9 L853.4,789.2 L852.4,789.5 L851.4,789.6 L850.4,789.5 L849.5,789.4 L848.8,789.2 L848.1,788.9 L847.6,788.5 L847.2,788.1" fill="none" stroke="#6052e6" stroke-width="2.1" stroke-linejoin="round"/>
<text x="817.2" y="706.5" font-family='"Liberation Serif", serif' font-size="15" font-weight="bold" fill="#000" textLength="40.3" lengthAdjust="spacingAndGlyphs">C3aR</text>
<text x="817.2" y="806" font-family='"Liberation Serif", serif' font-size="15" font-weight="bold" fill="#000" textLength="40.3" lengthAdjust="spacingAndGlyphs">C5aR</text>
<text x="963.4" y="729.9" font-family='"Liberation Serif", serif' font-size="16" font-weight="bold" fill="#000" textLength="91.6" lengthAdjust="spacingAndGlyphs">Neutrophils</text>
<path d="M1145.6,932 C1145.6,923 1150,920 1160,919.5 C1180,918.8 1200,918 1210,916 C1225,910 1245,903 1263,898 C1275,895 1285,895 1295,897 C1315,903 1338,918 1338,935 C1338,945 1332,950 1320,953 C1305,958 1290,961 1275,961 C1255,961 1235,959 1222,956 C1210,952 1200,944 1186,942 C1175,941 1165,943.5 1155,943 C1148,942 1145.6,938 1145.6,932 Z" fill="#f9a77c" stroke="#f29152" stroke-width="1.3"/>
<ellipse cx="1285.6" cy="926" rx="28.7" ry="21" fill="#fa7a50" stroke="#e85030" stroke-width="1.2"/>
<polyline points="693.6,967 765,955 938.4,956.8 1041.3,936 1140,944 1336,945.4" fill="none" stroke="#d6cc3a" stroke-width="2.2"/>
<polyline points="693.6,1050.3 792.2,1033.3 941.8,1040 1043.4,1017.8 1182,1029.4 1336.2,1026.3" fill="none" stroke="#d6cc3a" stroke-width="2.2"/>
<path d="M734,932 C734,924 740,922.5 748,922 C765,920 785,919 800,917 C815,914 828,906 842,901 C855,895 866,891 878,891 C895,891 915,896 930,906 C942,914 948,922 948,933 C948,943 944,950 936,954 C925,959 915,961 900,963 C885,965 870,965 860,965 C845,965 832,963 822,960 C812,956 805,950 795,947 C785,944 770,944 755,944 C742,944 734,941 734,932 Z" fill="#f9a77c" stroke="#f29152" stroke-width="1.3"/>
<ellipse cx="891" cy="925.8" rx="30.7" ry="23.8" fill="#fa7a50" stroke="#e85030" stroke-width="1.2"/>
<path d="M943.5,895 C943.5,885 950,882 965,881.5 C985,881 1000,881 1010,878 C1025,872 1045,866 1065,865 C1085,864.5 1105,865 1118,869 C1130,875 1136,886 1136,896 C1136,906 1128,912 1118,916 C1105,921 1090,923 1070,923.5 C1050,924 1035,921 1025,917 C1010,910 1000,904 985,903.5 C970,903 960,906 952,905 C946,904 943.5,900 943.5,895 Z" fill="#f9a77c" stroke="#f29152" stroke-width="1.3"/>
<ellipse cx="1084.4" cy="889.7" rx="28.6" ry="20" fill="#fa7a50" stroke="#e85030" stroke-width="1.2"/>
<circle cx="1080" cy="836" r="35" fill="#f9d3f3" stroke="#e9a4c8" stroke-width="1.5"/>
<ellipse cx="1080" cy="816.3" rx="10.5" ry="13.5" fill="#f6a4ae" stroke="#f090a0" stroke-width="0.8"/>
<ellipse cx="1095.9" cy="829" rx="10.5" ry="13.5" fill="#f6a4ae" stroke="#f090a0" stroke-width="0.8"/>
<ellipse cx="1088.5" cy="851" rx="10.5" ry="13.5" fill="#f6a4ae" stroke="#f090a0" stroke-width="0.8"/>
<circle cx="1190" cy="880.8" r="35" fill="#f9d3f3" stroke="#e9a4c8" stroke-width="1.5"/>
<ellipse cx="1190.4" cy="859.3" rx="10.5" ry="13.5" fill="#f6a4ae" stroke="#f090a0" stroke-width="0.8"/>
<ellipse cx="1207" cy="872" rx="10.5" ry="13.5" fill="#f6a4ae" stroke="#f090a0" stroke-width="0.8"/>
<ellipse cx="1196.7" cy="895" rx="10.5" ry="13.5" fill="#f6a4ae" stroke="#f090a0" stroke-width="0.8"/>
<path d="M1122,921 C1132,919 1135,930 1134,945 C1133,955 1145,962 1152,975 C1160,990 1160,1010 1150,1015 C1140,1018 1125,1005 1108,995 C1092,985 1088,970 1095,962 C1102,955 1112,955 1113,945 C1113,930 1112,921 1122,921 Z" fill="url(#diap)" stroke="#e79ad6" stroke-width="1.5"/>
<ellipse cx="1133" cy="970" rx="6" ry="8" fill="#f6a4ae" stroke="#f090a0" stroke-width="0.6"/>
<ellipse cx="1141" cy="985" rx="6" ry="8" fill="#f6a4ae" stroke="#f090a0" stroke-width="0.6"/>
<ellipse cx="1143" cy="1001" rx="6" ry="8" fill="#f6a4ae" stroke="#f090a0" stroke-width="0.6"/>
<path d="M852,870 L852,906 A6,4.2 0 0 0 864,906 L864,870 Z" fill="#b6eec6" stroke="#4c8a5c" stroke-width="1.1"/>
<ellipse cx="858" cy="870" rx="6" ry="4.2" fill="#c9f5d6" stroke="#4c8a5c" stroke-width="1.1"/>
<ellipse cx="858" cy="870" rx="3" ry="2.1" fill="none" stroke="#7ab88a" stroke-width="0.7"/>
<path d="M840,880.5 L840,918 A6,4.2 0 0 0 852,918 L852,880.5 Z" fill="#b6eec6" stroke="#4c8a5c" stroke-width="1.1"/>
<ellipse cx="846" cy="880.5" rx="6" ry="4.2" fill="#c9f5d6" stroke="#4c8a5c" stroke-width="1.1"/>
<ellipse cx="846" cy="880.5" rx="3" ry="2.1" fill="none" stroke="#7ab88a" stroke-width="0.7"/>
<path d="M865,878.5 L865,915.6 A5.8,4.2 0 0 0 876.6,915.6 L876.6,878.5 Z" fill="#b6eec6" stroke="#4c8a5c" stroke-width="1.1"/>
<ellipse cx="870.8" cy="878.5" rx="5.8" ry="4.2" fill="#c9f5d6" stroke="#4c8a5c" stroke-width="1.1"/>
<ellipse cx="870.8" cy="878.5" rx="2.9" ry="2.1" fill="none" stroke="#7ab88a" stroke-width="0.7"/>
<path d="M851.4,890.5 L851.4,928.8 A6,4.2 0 0 0 863.4,928.8 L863.4,890.5 Z" fill="#b6eec6" stroke="#4c8a5c" stroke-width="1.1"/>
<ellipse cx="857.4" cy="890.5" rx="6" ry="4.2" fill="#c9f5d6" stroke="#4c8a5c" stroke-width="1.1"/>
<ellipse cx="857.4" cy="890.5" rx="3" ry="2.1" fill="none" stroke="#7ab88a" stroke-width="0.7"/>
<text x="816.6" y="856.8" font-family='"Liberation Serif", serif' font-size="17" font-weight="bold" fill="#000" textLength="40.6" lengthAdjust="spacingAndGlyphs">MAC</text>
<polygon points="803.2,970.4 789.4,958.1 785.6,962.5 799.4,974.8" fill="#3b2a1c"/>
<polygon points="788.3,957.7 778.3,954.7 776.7,959.9 786.7,962.9" fill="#3b2a1c"/>
<polygon points="790.2,960.7 791.7,951.5 786.3,950.7 784.8,959.9" fill="#3b2a1c"/>

<circle cx="769.8" cy="955" r="5" fill="#3a6ac8" stroke="#2a4a90" stroke-width="1"/>
<polygon points="807.7,1000.1 806.4,985.6 800.5,986.1 801.7,1000.6" fill="#231d3a" stroke="#1c1830" stroke-width="0.6"/>
<polygon points="803.4,986.6 797.1,971.8 792.3,973.9 798.6,988.6" fill="#231d3a" stroke="#1c1830" stroke-width="0.6"/>
<polygon points="801.3,987.5 795.1,972.7 793.2,973.5 799.5,988.2" fill="#3c3670"/>
<polygon points="808.7,987.7 812.3,972.1 807.2,971 803.6,986.6" fill="#231d3a" stroke="#1c1830" stroke-width="0.6"/>
<polygon points="807.7,987.5 811.3,971.9 809.4,971.5 805.8,987.1" fill="#3c3670"/>
<polygon points="810.4,1005.8 823.8,1000.1 821.4,994.6 808.1,1000.3" fill="#231d3a" stroke="#1c1830" stroke-width="0.6"/>
<polygon points="821.9,997.5 834,987 830.6,983.1 818.5,993.6" fill="#231d3a" stroke="#1c1830" stroke-width="0.6"/>
<polygon points="820.4,995.8 832.5,985.3 831.2,983.9 819.1,994.4" fill="#3c3670"/>
<polygon points="822.5,1002.9 838.4,1001.6 837.9,996.4 822,997.8" fill="#231d3a" stroke="#1c1830" stroke-width="0.6"/>
<polygon points="822.4,1002 838.3,1000.6 838.1,998.6 822.2,1000" fill="#3c3670"/>
<polygon points="805.8,1010.2 815.3,1021.1 819.8,1017.2 810.3,1006.2" fill="#231d3a" stroke="#1c1830" stroke-width="0.6"/>
<polygon points="817.2,1018.5 830.9,1026.8 833.6,1022.3 819.9,1014.1" fill="#231d3a" stroke="#1c1830" stroke-width="0.6"/>
<polygon points="818.4,1016.6 832.1,1024.9 833.1,1023.2 819.4,1014.9" fill="#3c3670"/>
<polygon points="812.2,1020.7 818.5,1035.5 823.3,1033.4 817,1018.7" fill="#231d3a" stroke="#1c1830" stroke-width="0.6"/>
<polygon points="813.1,1020.3 819.4,1035.1 821.2,1034.3 815,1019.6" fill="#3c3670"/>
<polygon points="800.2,1007.1 792.7,1019.5 797.9,1022.6 805.4,1010.2" fill="#231d3a" stroke="#1c1830" stroke-width="0.6"/>
<polygon points="795.8,1020.6 792.2,1036.1 797.2,1037.3 800.8,1021.7" fill="#231d3a" stroke="#1c1830" stroke-width="0.6"/>
<polygon points="798,1021.1 794.4,1036.6 796.3,1037.1 799.9,1021.5" fill="#3c3670"/>
<polygon points="792.2,1016.5 780.1,1027 783.5,1030.9 795.6,1020.4" fill="#231d3a" stroke="#1c1830" stroke-width="0.6"/>
<polygon points="792.8,1017.2 780.7,1027.7 782,1029.2 794.1,1018.7" fill="#3c3670"/>
<polygon points="801.4,1000.9 787.3,997.6 785.9,1003.4 800,1006.7" fill="#231d3a" stroke="#1c1830" stroke-width="0.6"/>
<polygon points="787.2,1000.8 771.3,1002.2 771.8,1007.4 787.7,1006" fill="#231d3a" stroke="#1c1830" stroke-width="0.6"/>
<polygon points="787.4,1003 771.5,1004.4 771.7,1006.4 787.6,1005" fill="#3c3670"/>
<polygon points="790,996.1 776.3,987.9 773.6,992.3 787.3,1000.6" fill="#231d3a" stroke="#1c1830" stroke-width="0.6"/>
<polygon points="789.5,996.9 775.7,988.7 774.7,990.4 788.4,998.6" fill="#3c3670"/>
<polygon points="973.3,954.2 961.7,939.4 957.1,943 968.7,957.8" fill="#3b2a1c"/>
<polygon points="960.3,938.6 950.9,935.4 949.1,940.6 958.5,943.8" fill="#3b2a1c"/>
<polygon points="962.1,941.2 962.1,932.8 956.6,932.8 956.6,941.2" fill="#3b2a1c"/>

<circle cx="939.5" cy="937" r="5" fill="#9a5a8a" stroke="#6a3a5a" stroke-width="1"/>
<polygon points="977.9,982.5 976.6,968 970.7,968.5 971.9,983" fill="#231d3a" stroke="#1c1830" stroke-width="0.6"/>
<polygon points="973.6,969 967.3,954.2 962.5,956.3 968.8,971" fill="#231d3a" stroke="#1c1830" stroke-width="0.6"/>
<polygon points="971.5,969.9 965.3,955.1 963.4,955.9 969.7,970.6" fill="#3c3670"/>
<polygon points="978.9,970.1 982.5,954.5 977.4,953.4 973.8,969" fill="#231d3a" stroke="#1c1830" stroke-width="0.6"/>
<polygon points="977.9,969.9 981.5,954.3 979.6,953.9 976,969.5" fill="#3c3670"/>
<polygon points="980.6,988.2 994,982.5 991.6,977 978.3,982.7" fill="#231d3a" stroke="#1c1830" stroke-width="0.6"/>
<polygon points="992.1,979.9 1004.2,969.4 1000.8,965.5 988.7,976" fill="#231d3a" stroke="#1c1830" stroke-width="0.6"/>
<polygon points="990.6,978.2 1002.7,967.7 1001.4,966.3 989.3,976.8" fill="#3c3670"/>
<polygon points="992.7,985.3 1008.6,984 1008.1,978.8 992.2,980.2" fill="#231d3a" stroke="#1c1830" stroke-width="0.6"/>
<polygon points="992.6,984.4 1008.5,983 1008.3,981 992.4,982.4" fill="#3c3670"/>
<polygon points="976,992.6 985.5,1003.5 990,999.6 980.5,988.6" fill="#231d3a" stroke="#1c1830" stroke-width="0.6"/>
<polygon points="987.4,1000.9 1001.1,1009.2 1003.8,1004.7 990.1,996.5" fill="#231d3a" stroke="#1c1830" stroke-width="0.6"/>
<polygon points="988.6,999 1002.3,1007.3 1003.3,1005.6 989.6,997.3" fill="#3c3670"/>
<polygon points="982.4,1003.1 988.7,1017.9 993.5,1015.8 987.2,1001.1" fill="#231d3a" stroke="#1c1830" stroke-width="0.6"/>
<polygon points="983.3,1002.7 989.6,1017.5 991.4,1016.7 985.2,1002" fill="#3c3670"/>
<polygon points="970.4,989.5 962.9,1001.9 968.1,1005 975.6,992.6" fill="#231d3a" stroke="#1c1830" stroke-width="0.6"/>
<polygon points="966,1003 962.4,1018.5 967.4,1019.7 971,1004.1" fill="#231d3a" stroke="#1c1830" stroke-width="0.6"/>
<polygon points="968.2,1003.5 964.6,1019 966.5,1019.5 970.1,1003.9" fill="#3c3670"/>
<polygon points="962.4,998.9 950.3,1009.4 953.7,1013.3 965.8,1002.8" fill="#231d3a" stroke="#1c1830" stroke-width="0.6"/>
<polygon points="963,999.6 950.9,1010.1 952.2,1011.6 964.3,1001.1" fill="#3c3670"/>
<polygon points="971.6,983.3 957.5,980 956.1,985.8 970.2,989.1" fill="#231d3a" stroke="#1c1830" stroke-width="0.6"/>
<polygon points="957.4,983.2 941.5,984.6 942,989.8 957.9,988.4" fill="#231d3a" stroke="#1c1830" stroke-width="0.6"/>
<polygon points="957.6,985.4 941.7,986.8 941.9,988.8 957.8,987.4" fill="#3c3670"/>
<polygon points="960.2,978.5 946.5,970.3 943.8,974.7 957.5,983" fill="#231d3a" stroke="#1c1830" stroke-width="0.6"/>
<polygon points="959.7,979.3 945.9,971.1 944.9,972.8 958.6,981" fill="#3c3670"/>
<polygon points="818.9,980.6 816.7,975.6 814.9,976.5 817.1,981.4" fill="#d6a818" stroke="#9c7810" stroke-width="0.315"/>
<polygon points="818.9,981.4 821.1,976.5 819.2,975.6 817.1,980.6" fill="#d6a818" stroke="#9c7810" stroke-width="0.315"/>
<polygon points="818.3,982 823.5,980.5 822.9,978.5 817.7,980" fill="#d6a818" stroke="#9c7810" stroke-width="0.315"/>
<circle cx="815.8" cy="976.1" r="1.8" fill="#d2a010" stroke="#9c7810" stroke-width="0.3"/>
<circle cx="820.2" cy="976.1" r="1.8" fill="#d2a010" stroke="#9c7810" stroke-width="0.3"/>
<circle cx="823.2" cy="979.5" r="1.8" fill="#d2a010" stroke="#9c7810" stroke-width="0.3"/>
<polygon points="815.3,990.6 819.7,980.8 817,979.6 812.7,989.4" fill="#dcae20" stroke="#9c7810" stroke-width="0.315"/>
<polygon points="814.9,988.8 818.3,981.1 817.7,980.9 814.3,988.5" fill="#f0cc50"/>
<polygon points="804.4,1029.8 808.4,1033.4 809.8,1031.8 805.8,1028.2" fill="#d6a818" stroke="#9c7810" stroke-width="0.315"/>
<polygon points="804.1,1029 804.1,1034.4 806.1,1034.4 806.1,1029" fill="#d6a818" stroke="#9c7810" stroke-width="0.315"/>
<polygon points="804.4,1028.2 800.3,1031.7 801.6,1033.3 805.8,1029.8" fill="#d6a818" stroke="#9c7810" stroke-width="0.315"/>
<circle cx="809.1" cy="1032.6" r="1.8" fill="#d2a010" stroke="#9c7810" stroke-width="0.3"/>
<circle cx="805.1" cy="1034.4" r="1.8" fill="#d2a010" stroke="#9c7810" stroke-width="0.3"/>
<circle cx="801" cy="1032.5" r="1.8" fill="#d2a010" stroke="#9c7810" stroke-width="0.3"/>
<polygon points="803.6,1022 803.6,1029.9 806.6,1029.9 806.6,1022" fill="#dcae20" stroke="#9c7810" stroke-width="0.315"/>
<polygon points="804.7,1023 804.7,1029 805.5,1029 805.5,1023" fill="#f0cc50"/>
<polygon points="990,962.6 988,957.6 986.1,958.4 988,963.4" fill="#d6a818" stroke="#9c7810" stroke-width="0.315"/>
<polygon points="989.9,963.5 992.3,958.6 990.5,957.7 988.1,962.5" fill="#d6a818" stroke="#9c7810" stroke-width="0.315"/>
<polygon points="989.2,964 994.5,962.8 994,960.7 988.8,962" fill="#d6a818" stroke="#9c7810" stroke-width="0.315"/>
<circle cx="987" cy="958" r="1.8" fill="#d2a010" stroke="#9c7810" stroke-width="0.3"/>
<circle cx="991.4" cy="958.2" r="1.8" fill="#d2a010" stroke="#9c7810" stroke-width="0.3"/>
<circle cx="994.3" cy="961.7" r="1.8" fill="#d2a010" stroke="#9c7810" stroke-width="0.3"/>
<polygon points="986.3,971.7 990.7,962.8 988.1,961.5 983.7,970.3" fill="#dcae20" stroke="#9c7810" stroke-width="0.315"/>
<polygon points="985.9,970 989.3,963.2 988.7,962.8 985.3,969.6" fill="#f0cc50"/>
<polygon points="974.6,1012.8 978.6,1016.4 980,1014.8 976,1011.2" fill="#d6a818" stroke="#9c7810" stroke-width="0.315"/>
<polygon points="974.3,1012 974.3,1017.4 976.3,1017.4 976.3,1012" fill="#d6a818" stroke="#9c7810" stroke-width="0.315"/>
<polygon points="974.6,1011.2 970.5,1014.7 971.8,1016.3 976,1012.8" fill="#d6a818" stroke="#9c7810" stroke-width="0.315"/>
<circle cx="979.3" cy="1015.6" r="1.8" fill="#d2a010" stroke="#9c7810" stroke-width="0.3"/>
<circle cx="975.3" cy="1017.4" r="1.8" fill="#d2a010" stroke="#9c7810" stroke-width="0.3"/>
<circle cx="971.2" cy="1015.5" r="1.8" fill="#d2a010" stroke="#9c7810" stroke-width="0.3"/>
<polygon points="973.8,1005 973.8,1012.9 976.8,1012.9 976.8,1005" fill="#dcae20" stroke="#9c7810" stroke-width="0.315"/>
<polygon points="974.9,1006 974.9,1012 975.7,1012 975.7,1006" fill="#f0cc50"/>
<text x="1248.2" y="996.8" font-family='"Liberation Serif", serif' font-size="16" font-weight="bold" fill="#000" textLength="36.7" lengthAdjust="spacingAndGlyphs">ROS</text>
<text x="1253.4" y="1017.8" font-family='"Liberation Serif", serif' font-size="16" font-weight="bold" fill="#000" textLength="26.2" lengthAdjust="spacingAndGlyphs">NO</text>
<text x="1218.7" y="1038.8" font-family='"Liberation Serif", serif' font-size="16" font-weight="bold" fill="#000" textLength="96.6" lengthAdjust="spacingAndGlyphs">Chemokines</text>
</svg>
</body></html>
